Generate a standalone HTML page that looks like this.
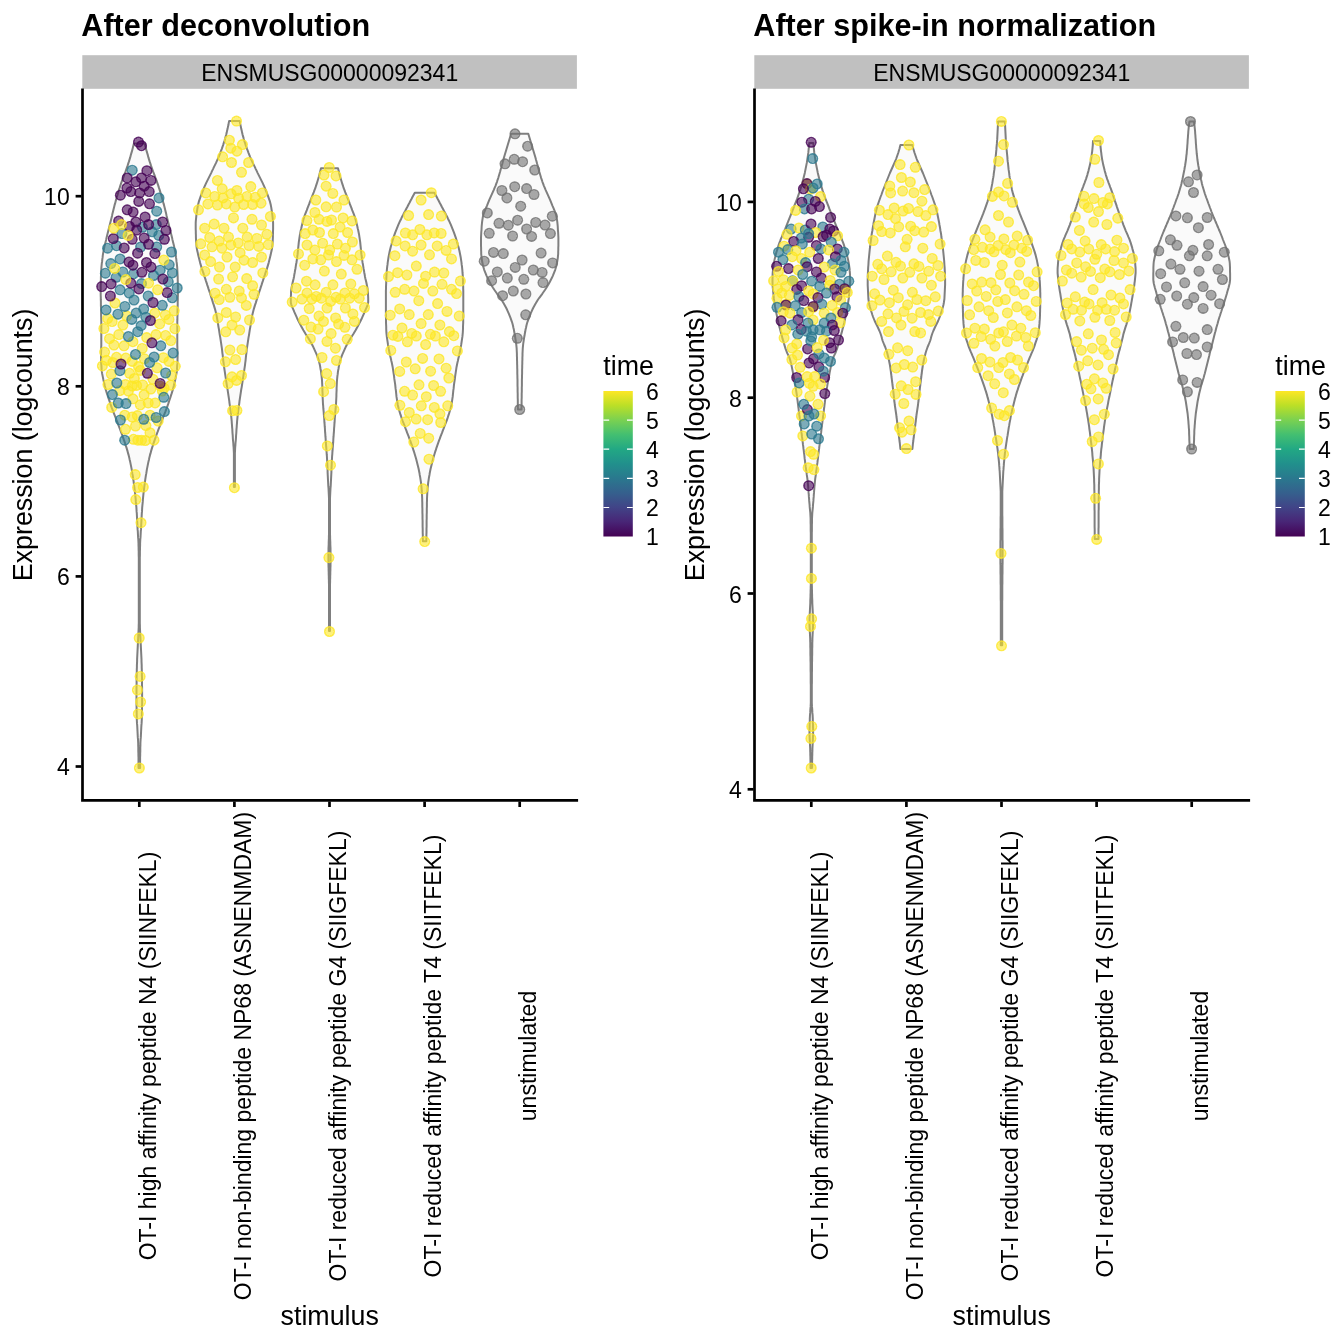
<!DOCTYPE html>
<html><head><meta charset="utf-8"><title>Expression violin plots</title>
<style>
html,body{margin:0;padding:0;background:#fff;}
svg{display:block}
text{font-family:"Liberation Sans", sans-serif;fill:#000}
.ttl{font-size:30.6px;font-weight:bold}
.ax{font-size:23px}
.axt{font-size:26.8px}
.v{fill:#FAFAFA;stroke:#7F7F7F;stroke-width:2;stroke-linejoin:round}
.y circle{fill:url(#gy)}
.p circle{fill:url(#gp)}
.t circle{fill:url(#gt)}
.g circle{fill:url(#gg)}
.l{stroke:#000;stroke-width:2.7;fill:none}
</style></head><body>
<svg width="1344" height="1344" viewBox="0 0 1344 1344">
<defs><linearGradient id="vir" x1="0" y1="1" x2="0" y2="0">
<stop offset="0" stop-color="#440154"/><stop offset="0.1" stop-color="#482576"/><stop offset="0.2" stop-color="#414487"/><stop offset="0.3" stop-color="#35608D"/><stop offset="0.4" stop-color="#2A788E"/><stop offset="0.5" stop-color="#21908C"/><stop offset="0.6" stop-color="#22A884"/><stop offset="0.7" stop-color="#43BF71"/><stop offset="0.8" stop-color="#7AD151"/><stop offset="0.9" stop-color="#BBDF27"/><stop offset="1" stop-color="#FDE725"/>
</linearGradient>
<radialGradient id="gy"><stop offset="0" stop-color="#FDE725" stop-opacity=".6"/><stop offset=".72" stop-color="#FDE725" stop-opacity=".6"/><stop offset=".75" stop-color="#FDE725" stop-opacity=".84"/><stop offset="1" stop-color="#FDE725" stop-opacity=".84"/></radialGradient>
<radialGradient id="gp"><stop offset="0" stop-color="#440154" stop-opacity=".6"/><stop offset=".72" stop-color="#440154" stop-opacity=".6"/><stop offset=".75" stop-color="#440154" stop-opacity=".84"/><stop offset="1" stop-color="#440154" stop-opacity=".84"/></radialGradient>
<radialGradient id="gt"><stop offset="0" stop-color="#2A788E" stop-opacity=".6"/><stop offset=".72" stop-color="#2A788E" stop-opacity=".6"/><stop offset=".75" stop-color="#2A788E" stop-opacity=".84"/><stop offset="1" stop-color="#2A788E" stop-opacity=".84"/></radialGradient>
<radialGradient id="gg"><stop offset="0" stop-color="#707070" stop-opacity=".6"/><stop offset=".72" stop-color="#707070" stop-opacity=".6"/><stop offset=".75" stop-color="#707070" stop-opacity=".84"/><stop offset="1" stop-color="#707070" stop-opacity=".84"/></radialGradient>
</defs>
<rect width="1344" height="1344" fill="#fff"/>

<text class="ttl" x="81.3" y="35.7">After deconvolution</text>
<rect x="82.3" y="55.2" width="494.6" height="33.6" fill="#C0C0C0"/>
<text class="ax" x="329.7" y="80.6" text-anchor="middle">ENSMUSG00000092341</text>
<path class="v" d="M133.9,143.4 L133.4,145.4 L132.9,147.4 L132.4,149.4 L131.9,151.4 L131.3,153.4 L130.7,155.4 L130.2,157.4 L129.6,159.4 L129.0,161.4 L128.3,163.4 L127.7,165.4 L127.0,167.4 L126.3,169.4 L125.6,171.4 L124.8,173.4 L124.0,175.4 L123.3,177.4 L122.5,179.4 L121.8,181.4 L121.1,183.4 L120.4,185.4 L119.8,187.4 L119.1,189.4 L118.5,191.4 L117.9,193.4 L117.3,195.4 L116.7,197.4 L116.2,199.4 L115.6,201.4 L115.1,203.4 L114.5,205.4 L114.0,207.4 L113.5,209.4 L113.0,211.4 L112.5,213.4 L112.1,215.4 L111.6,217.4 L111.1,219.4 L110.6,221.4 L110.1,223.4 L109.6,225.4 L109.1,227.4 L108.6,229.4 L108.1,231.4 L107.6,233.4 L107.1,235.4 L106.6,237.4 L106.2,239.4 L105.7,241.4 L105.2,243.4 L104.7,245.4 L104.3,247.4 L103.9,249.4 L103.5,251.4 L103.1,253.4 L102.8,255.4 L102.6,257.4 L102.3,259.4 L102.1,261.4 L101.8,263.4 L101.6,265.4 L101.4,267.4 L101.3,269.4 L101.2,271.4 L101.1,273.4 L101.0,275.4 L100.9,277.4 L100.9,279.4 L100.8,281.4 L100.8,283.4 L100.7,285.4 L100.7,287.4 L100.7,289.4 L100.7,291.4 L100.7,293.4 L100.7,295.4 L100.8,297.4 L100.8,299.4 L100.9,301.4 L100.9,303.4 L100.9,305.4 L101.0,307.4 L101.0,309.4 L101.1,311.4 L101.1,313.4 L101.1,315.4 L101.2,317.4 L101.2,319.4 L101.3,321.4 L101.3,323.4 L101.3,325.4 L101.3,327.4 L101.3,329.4 L101.3,331.4 L101.3,333.4 L101.3,335.4 L101.3,337.4 L101.3,339.4 L101.3,341.4 L101.3,343.4 L101.3,345.4 L101.2,347.4 L101.2,349.4 L101.1,351.4 L101.0,353.4 L101.0,355.4 L101.0,357.4 L101.1,359.4 L101.1,361.4 L101.2,363.4 L101.4,365.4 L101.5,367.4 L101.6,369.4 L101.8,371.4 L102.1,373.4 L102.5,375.4 L102.9,377.4 L103.3,379.4 L103.8,381.4 L104.3,383.4 L104.7,385.4 L105.2,387.4 L105.7,389.4 L106.3,391.4 L106.9,393.4 L107.6,395.4 L108.2,397.4 L108.9,399.4 L109.6,401.4 L110.2,403.4 L110.9,405.4 L111.6,407.4 L112.4,409.4 L113.1,411.4 L113.9,413.4 L114.7,415.4 L115.5,417.4 L116.2,419.4 L117.0,421.4 L117.8,423.4 L118.5,425.4 L119.3,427.4 L120.1,429.4 L120.8,431.4 L121.6,433.4 L122.3,435.4 L123.0,437.4 L123.7,439.4 L124.4,441.4 L125.1,443.4 L125.7,445.4 L126.4,447.4 L127.0,449.4 L127.6,451.4 L128.1,453.4 L128.7,455.4 L129.2,457.4 L129.6,459.4 L130.1,461.4 L130.5,463.4 L130.9,465.4 L131.3,467.4 L131.7,469.4 L132.0,471.4 L132.3,473.4 L132.7,475.4 L133.0,477.4 L133.3,479.4 L133.6,481.4 L133.8,483.4 L134.1,485.4 L134.4,487.4 L134.6,489.4 L134.8,491.4 L135.1,493.4 L135.3,495.4 L135.5,497.4 L135.7,499.4 L135.8,501.4 L136.0,503.4 L136.2,505.4 L136.4,507.4 L136.5,509.4 L136.6,511.4 L136.8,513.4 L136.9,515.4 L137.0,517.4 L137.1,519.4 L137.2,521.4 L137.3,523.4 L137.4,525.4 L137.5,527.4 L137.6,529.4 L137.8,531.4 L137.9,533.4 L138.0,535.4 L138.1,537.4 L138.3,539.4 L138.4,541.4 L138.5,543.4 L138.5,545.4 L138.6,547.4 L138.6,549.4 L138.7,551.4 L138.7,553.4 L138.7,555.4 L138.8,557.4 L138.8,559.4 L138.8,561.4 L138.8,563.4 L138.8,565.4 L138.8,567.4 L138.8,569.4 L138.8,571.4 L138.8,573.4 L138.8,575.4 L138.8,577.4 L138.8,579.4 L138.8,581.4 L138.8,583.4 L138.8,585.4 L138.8,587.4 L138.8,589.4 L138.8,591.4 L138.8,593.4 L138.8,595.4 L138.8,597.4 L138.8,599.4 L138.8,601.4 L138.8,603.4 L138.8,605.4 L138.8,607.4 L138.8,609.4 L138.8,611.4 L138.8,613.4 L138.8,615.4 L138.8,617.4 L138.8,619.4 L138.8,621.4 L138.8,623.4 L138.7,625.4 L138.7,627.4 L138.6,629.4 L138.5,631.4 L138.4,633.4 L138.3,635.4 L138.2,637.4 L138.1,639.4 L138.0,641.4 L137.9,643.4 L137.8,645.4 L137.7,647.4 L137.6,649.4 L137.5,651.4 L137.4,653.4 L137.3,655.4 L137.2,657.4 L137.1,659.4 L137.1,661.4 L137.0,663.4 L136.9,665.4 L136.9,667.4 L136.8,669.4 L136.8,671.4 L136.7,673.4 L136.7,675.4 L136.6,677.4 L136.6,679.4 L136.6,681.4 L136.6,683.4 L136.6,685.4 L136.5,687.4 L136.5,689.4 L136.5,691.4 L136.5,693.4 L136.5,695.4 L136.5,697.4 L136.5,699.4 L136.5,701.4 L136.5,703.4 L136.5,705.4 L136.6,707.4 L136.6,709.4 L136.6,711.4 L136.7,713.4 L136.7,715.4 L136.8,717.4 L136.8,719.4 L136.9,721.4 L137.0,723.4 L137.2,725.4 L137.3,727.4 L137.4,729.4 L137.5,731.4 L137.6,733.4 L137.7,735.4 L137.8,737.4 L138.0,739.4 L138.1,741.4 L138.2,743.4 L138.2,745.4 L138.3,747.4 L138.3,749.4 L138.3,751.4 L138.4,753.4 L138.4,755.4 L138.5,757.4 L138.5,759.4 L138.5,761.4 L138.5,763.4 L138.5,765.4 L138.5,767.4 L138.6,768.0 L140.1,768.0 L140.1,767.4 L140.1,765.4 L140.1,763.4 L140.1,761.4 L140.1,759.4 L140.1,757.4 L140.2,755.4 L140.2,753.4 L140.3,751.4 L140.3,749.4 L140.3,747.4 L140.4,745.4 L140.4,743.4 L140.5,741.4 L140.6,739.4 L140.8,737.4 L140.9,735.4 L141.0,733.4 L141.1,731.4 L141.2,729.4 L141.3,727.4 L141.4,725.4 L141.6,723.4 L141.7,721.4 L141.8,719.4 L141.8,717.4 L141.9,715.4 L141.9,713.4 L142.0,711.4 L142.0,709.4 L142.0,707.4 L142.1,705.4 L142.1,703.4 L142.1,701.4 L142.1,699.4 L142.1,697.4 L142.1,695.4 L142.1,693.4 L142.1,691.4 L142.1,689.4 L142.1,687.4 L142.0,685.4 L142.0,683.4 L142.0,681.4 L142.0,679.4 L142.0,677.4 L141.9,675.4 L141.9,673.4 L141.8,671.4 L141.8,669.4 L141.7,667.4 L141.7,665.4 L141.6,663.4 L141.5,661.4 L141.5,659.4 L141.4,657.4 L141.3,655.4 L141.2,653.4 L141.1,651.4 L141.0,649.4 L140.9,647.4 L140.8,645.4 L140.7,643.4 L140.6,641.4 L140.5,639.4 L140.4,637.4 L140.3,635.4 L140.2,633.4 L140.1,631.4 L140.0,629.4 L139.9,627.4 L139.9,625.4 L139.8,623.4 L139.8,621.4 L139.8,619.4 L139.8,617.4 L139.8,615.4 L139.8,613.4 L139.8,611.4 L139.8,609.4 L139.8,607.4 L139.8,605.4 L139.8,603.4 L139.8,601.4 L139.8,599.4 L139.8,597.4 L139.8,595.4 L139.8,593.4 L139.8,591.4 L139.8,589.4 L139.8,587.4 L139.8,585.4 L139.8,583.4 L139.8,581.4 L139.8,579.4 L139.8,577.4 L139.8,575.4 L139.8,573.4 L139.8,571.4 L139.8,569.4 L139.8,567.4 L139.8,565.4 L139.8,563.4 L139.8,561.4 L139.8,559.4 L139.8,557.4 L139.9,555.4 L139.9,553.4 L139.9,551.4 L140.0,549.4 L140.0,547.4 L140.1,545.4 L140.1,543.4 L140.2,541.4 L140.3,539.4 L140.5,537.4 L140.6,535.4 L140.7,533.4 L140.8,531.4 L141.0,529.4 L141.1,527.4 L141.2,525.4 L141.3,523.4 L141.4,521.4 L141.5,519.4 L141.6,517.4 L141.7,515.4 L141.8,513.4 L142.0,511.4 L142.1,509.4 L142.2,507.4 L142.4,505.4 L142.6,503.4 L142.8,501.4 L142.9,499.4 L143.1,497.4 L143.3,495.4 L143.5,493.4 L143.8,491.4 L144.0,489.4 L144.2,487.4 L144.5,485.4 L144.8,483.4 L145.0,481.4 L145.3,479.4 L145.6,477.4 L145.9,475.4 L146.3,473.4 L146.6,471.4 L146.9,469.4 L147.3,467.4 L147.7,465.4 L148.1,463.4 L148.5,461.4 L149.0,459.4 L149.4,457.4 L149.9,455.4 L150.5,453.4 L151.0,451.4 L151.6,449.4 L152.2,447.4 L152.9,445.4 L153.5,443.4 L154.2,441.4 L154.9,439.4 L155.6,437.4 L156.3,435.4 L157.0,433.4 L157.8,431.4 L158.5,429.4 L159.3,427.4 L160.1,425.4 L160.8,423.4 L161.6,421.4 L162.4,419.4 L163.1,417.4 L163.9,415.4 L164.7,413.4 L165.5,411.4 L166.2,409.4 L167.0,407.4 L167.7,405.4 L168.4,403.4 L169.0,401.4 L169.7,399.4 L170.4,397.4 L171.0,395.4 L171.7,393.4 L172.3,391.4 L172.9,389.4 L173.4,387.4 L173.9,385.4 L174.3,383.4 L174.8,381.4 L175.3,379.4 L175.7,377.4 L176.1,375.4 L176.5,373.4 L176.8,371.4 L177.0,369.4 L177.1,367.4 L177.2,365.4 L177.4,363.4 L177.5,361.4 L177.5,359.4 L177.6,357.4 L177.6,355.4 L177.6,353.4 L177.5,351.4 L177.4,349.4 L177.4,347.4 L177.3,345.4 L177.3,343.4 L177.3,341.4 L177.3,339.4 L177.3,337.4 L177.3,335.4 L177.3,333.4 L177.3,331.4 L177.3,329.4 L177.3,327.4 L177.3,325.4 L177.3,323.4 L177.3,321.4 L177.4,319.4 L177.4,317.4 L177.5,315.4 L177.5,313.4 L177.5,311.4 L177.6,309.4 L177.6,307.4 L177.7,305.4 L177.7,303.4 L177.7,301.4 L177.8,299.4 L177.8,297.4 L177.9,295.4 L177.9,293.4 L177.9,291.4 L177.9,289.4 L177.9,287.4 L177.9,285.4 L177.8,283.4 L177.8,281.4 L177.7,279.4 L177.7,277.4 L177.6,275.4 L177.5,273.4 L177.4,271.4 L177.3,269.4 L177.2,267.4 L177.0,265.4 L176.8,263.4 L176.5,261.4 L176.3,259.4 L176.0,257.4 L175.8,255.4 L175.5,253.4 L175.1,251.4 L174.7,249.4 L174.3,247.4 L173.9,245.4 L173.4,243.4 L172.9,241.4 L172.4,239.4 L172.0,237.4 L171.5,235.4 L171.0,233.4 L170.5,231.4 L170.0,229.4 L169.5,227.4 L169.0,225.4 L168.5,223.4 L168.0,221.4 L167.5,219.4 L167.0,217.4 L166.5,215.4 L166.1,213.4 L165.6,211.4 L165.1,209.4 L164.6,207.4 L164.1,205.4 L163.5,203.4 L163.0,201.4 L162.4,199.4 L161.9,197.4 L161.3,195.4 L160.7,193.4 L160.1,191.4 L159.5,189.4 L158.8,187.4 L158.2,185.4 L157.5,183.4 L156.8,181.4 L156.1,179.4 L155.3,177.4 L154.6,175.4 L153.8,173.4 L153.0,171.4 L152.3,169.4 L151.6,167.4 L150.9,165.4 L150.3,163.4 L149.6,161.4 L149.0,159.4 L148.4,157.4 L147.9,155.4 L147.3,153.4 L146.7,151.4 L146.2,149.4 L145.7,147.4 L145.2,145.4 L144.7,143.4Z"/>
<path class="v" d="M229.1,121.1 L228.7,123.1 L228.4,125.1 L227.9,127.1 L227.5,129.1 L227.0,131.1 L226.6,133.1 L226.1,135.1 L225.5,137.1 L225.0,139.1 L224.4,141.1 L223.7,143.1 L223.1,145.1 L222.4,147.1 L221.7,149.1 L220.9,151.1 L220.2,153.1 L219.4,155.1 L218.6,157.1 L217.7,159.1 L216.8,161.1 L215.9,163.1 L214.9,165.1 L213.9,167.1 L213.0,169.1 L212.0,171.1 L211.1,173.1 L210.1,175.1 L209.1,177.1 L208.1,179.1 L207.1,181.1 L206.1,183.1 L205.2,185.1 L204.3,187.1 L203.5,189.1 L202.7,191.1 L201.9,193.1 L201.1,195.1 L200.4,197.1 L199.7,199.1 L199.0,201.1 L198.5,203.1 L198.0,205.1 L197.6,207.1 L197.3,209.1 L197.0,211.1 L196.7,213.1 L196.4,215.1 L196.2,217.1 L196.0,219.1 L195.8,221.1 L195.7,223.1 L195.7,225.1 L195.7,227.1 L195.7,229.1 L195.8,231.1 L195.8,233.1 L195.9,235.1 L195.9,237.1 L196.0,239.1 L196.1,241.1 L196.2,243.1 L196.4,245.1 L196.6,247.1 L196.9,249.1 L197.3,251.1 L197.8,253.1 L198.2,255.1 L198.7,257.1 L199.2,259.1 L199.7,261.1 L200.2,263.1 L200.8,265.1 L201.4,267.1 L202.0,269.1 L202.7,271.1 L203.4,273.1 L204.0,275.1 L204.7,277.1 L205.4,279.1 L206.0,281.1 L206.7,283.1 L207.3,285.1 L208.0,287.1 L208.6,289.1 L209.3,291.1 L210.0,293.1 L210.6,295.1 L211.2,297.1 L211.9,299.1 L212.5,301.1 L213.1,303.1 L213.8,305.1 L214.4,307.1 L215.0,309.1 L215.5,311.1 L216.0,313.1 L216.5,315.1 L216.9,317.1 L217.2,319.1 L217.6,321.1 L217.9,323.1 L218.2,325.1 L218.5,327.1 L218.9,329.1 L219.2,331.1 L219.5,333.1 L219.8,335.1 L220.2,337.1 L220.5,339.1 L220.8,341.1 L221.1,343.1 L221.4,345.1 L221.7,347.1 L222.0,349.1 L222.2,351.1 L222.4,353.1 L222.7,355.1 L222.9,357.1 L223.1,359.1 L223.3,361.1 L223.6,363.1 L223.8,365.1 L224.1,367.1 L224.4,369.1 L224.7,371.1 L225.0,373.1 L225.3,375.1 L225.6,377.1 L225.9,379.1 L226.2,381.1 L226.5,383.1 L226.8,385.1 L227.1,387.1 L227.5,389.1 L227.8,391.1 L228.1,393.1 L228.4,395.1 L228.7,397.1 L229.0,399.1 L229.3,401.1 L229.5,403.1 L229.8,405.1 L230.1,407.1 L230.3,409.1 L230.6,411.1 L230.8,413.1 L231.1,415.1 L231.3,417.1 L231.5,419.1 L231.7,421.1 L231.8,423.1 L232.0,425.1 L232.1,427.1 L232.3,429.1 L232.4,431.1 L232.5,433.1 L232.7,435.1 L232.8,437.1 L232.9,439.1 L233.1,441.1 L233.3,443.1 L233.4,445.1 L233.6,447.1 L233.7,449.1 L233.8,451.1 L233.9,453.1 L233.9,455.1 L233.9,457.1 L233.9,459.1 L233.9,461.1 L233.9,463.1 L233.9,465.1 L233.9,467.1 L233.9,469.1 L233.9,471.1 L233.9,473.1 L233.9,475.1 L233.9,477.1 L233.9,479.1 L233.9,481.1 L233.9,483.1 L233.9,485.1 L233.9,487.0 L234.9,487.0 L234.9,485.1 L234.9,483.1 L234.9,481.1 L234.9,479.1 L234.9,477.1 L234.9,475.1 L234.9,473.1 L234.9,471.1 L234.9,469.1 L234.9,467.1 L234.9,465.1 L234.9,463.1 L234.9,461.1 L234.9,459.1 L234.9,457.1 L234.9,455.1 L234.9,453.1 L235.0,451.1 L235.1,449.1 L235.2,447.1 L235.4,445.1 L235.5,443.1 L235.7,441.1 L235.9,439.1 L236.0,437.1 L236.1,435.1 L236.3,433.1 L236.4,431.1 L236.5,429.1 L236.7,427.1 L236.8,425.1 L237.0,423.1 L237.1,421.1 L237.3,419.1 L237.5,417.1 L237.7,415.1 L238.0,413.1 L238.2,411.1 L238.5,409.1 L238.7,407.1 L239.0,405.1 L239.3,403.1 L239.5,401.1 L239.8,399.1 L240.1,397.1 L240.4,395.1 L240.7,393.1 L241.0,391.1 L241.3,389.1 L241.7,387.1 L242.0,385.1 L242.3,383.1 L242.6,381.1 L242.9,379.1 L243.2,377.1 L243.5,375.1 L243.8,373.1 L244.1,371.1 L244.4,369.1 L244.7,367.1 L245.0,365.1 L245.2,363.1 L245.5,361.1 L245.7,359.1 L245.9,357.1 L246.1,355.1 L246.4,353.1 L246.6,351.1 L246.8,349.1 L247.1,347.1 L247.4,345.1 L247.7,343.1 L248.0,341.1 L248.3,339.1 L248.6,337.1 L249.0,335.1 L249.3,333.1 L249.6,331.1 L249.9,329.1 L250.3,327.1 L250.6,325.1 L250.9,323.1 L251.2,321.1 L251.6,319.1 L251.9,317.1 L252.3,315.1 L252.8,313.1 L253.3,311.1 L253.8,309.1 L254.4,307.1 L255.0,305.1 L255.7,303.1 L256.3,301.1 L256.9,299.1 L257.6,297.1 L258.2,295.1 L258.8,293.1 L259.5,291.1 L260.2,289.1 L260.8,287.1 L261.5,285.1 L262.1,283.1 L262.8,281.1 L263.4,279.1 L264.1,277.1 L264.8,275.1 L265.4,273.1 L266.1,271.1 L266.8,269.1 L267.4,267.1 L268.0,265.1 L268.6,263.1 L269.1,261.1 L269.6,259.1 L270.1,257.1 L270.6,255.1 L271.0,253.1 L271.5,251.1 L271.9,249.1 L272.2,247.1 L272.4,245.1 L272.6,243.1 L272.7,241.1 L272.8,239.1 L272.9,237.1 L272.9,235.1 L273.0,233.1 L273.0,231.1 L273.1,229.1 L273.1,227.1 L273.1,225.1 L273.1,223.1 L273.0,221.1 L272.8,219.1 L272.6,217.1 L272.4,215.1 L272.1,213.1 L271.8,211.1 L271.5,209.1 L271.2,207.1 L270.8,205.1 L270.3,203.1 L269.8,201.1 L269.1,199.1 L268.4,197.1 L267.7,195.1 L266.9,193.1 L266.1,191.1 L265.3,189.1 L264.5,187.1 L263.6,185.1 L262.7,183.1 L261.7,181.1 L260.7,179.1 L259.7,177.1 L258.7,175.1 L257.7,173.1 L256.8,171.1 L255.8,169.1 L254.9,167.1 L253.9,165.1 L252.9,163.1 L252.0,161.1 L251.1,159.1 L250.2,157.1 L249.4,155.1 L248.6,153.1 L247.9,151.1 L247.1,149.1 L246.4,147.1 L245.7,145.1 L245.1,143.1 L244.4,141.1 L243.8,139.1 L243.3,137.1 L242.7,135.1 L242.2,133.1 L241.8,131.1 L241.3,129.1 L240.9,127.1 L240.4,125.1 L240.1,123.1 L239.7,121.1Z"/>
<path class="v" d="M321.0,168.2 L320.5,170.2 L320.0,172.2 L319.5,174.2 L319.0,176.2 L318.4,178.2 L317.8,180.2 L317.2,182.2 L316.6,184.2 L315.9,186.2 L315.3,188.2 L314.5,190.2 L313.8,192.2 L313.0,194.2 L312.2,196.2 L311.4,198.2 L310.6,200.2 L309.8,202.2 L309.1,204.2 L308.3,206.2 L307.5,208.2 L306.8,210.2 L306.0,212.2 L305.2,214.2 L304.5,216.2 L303.8,218.2 L303.2,220.2 L302.7,222.2 L302.2,224.2 L301.7,226.2 L301.3,228.2 L300.8,230.2 L300.4,232.2 L300.0,234.2 L299.7,236.2 L299.4,238.2 L299.1,240.2 L298.8,242.2 L298.6,244.2 L298.4,246.2 L298.2,248.2 L298.0,250.2 L297.8,252.2 L297.6,254.2 L297.3,256.2 L297.1,258.2 L296.8,260.2 L296.5,262.2 L296.1,264.2 L295.8,266.2 L295.5,268.2 L295.1,270.2 L294.8,272.2 L294.4,274.2 L294.1,276.2 L293.7,278.2 L293.2,280.2 L292.7,282.2 L292.3,284.2 L291.9,286.2 L291.5,288.2 L291.2,290.2 L291.0,292.2 L291.0,294.2 L290.9,296.2 L290.8,298.2 L290.8,300.2 L290.8,302.2 L291.2,304.2 L291.8,306.2 L292.7,308.2 L293.6,310.2 L294.4,312.2 L295.3,314.2 L296.2,316.2 L297.1,318.2 L298.1,320.2 L299.1,322.2 L300.2,324.2 L301.2,326.2 L302.3,328.2 L303.4,330.2 L304.6,332.2 L305.8,334.2 L307.1,336.2 L308.4,338.2 L309.6,340.2 L310.8,342.2 L311.9,344.2 L312.9,346.2 L313.8,348.2 L314.7,350.2 L315.6,352.2 L316.5,354.2 L317.3,356.2 L318.0,358.2 L318.7,360.2 L319.2,362.2 L319.7,364.2 L320.1,366.2 L320.4,368.2 L320.8,370.2 L321.1,372.2 L321.3,374.2 L321.6,376.2 L321.8,378.2 L322.0,380.2 L322.1,382.2 L322.2,384.2 L322.3,386.2 L322.4,388.2 L322.4,390.2 L322.5,392.2 L322.6,394.2 L322.6,396.2 L322.7,398.2 L322.8,400.2 L322.9,402.2 L323.0,404.2 L323.2,406.2 L323.3,408.2 L323.5,410.2 L323.7,412.2 L323.8,414.2 L324.0,416.2 L324.2,418.2 L324.3,420.2 L324.4,422.2 L324.6,424.2 L324.7,426.2 L324.9,428.2 L325.0,430.2 L325.1,432.2 L325.3,434.2 L325.4,436.2 L325.6,438.2 L325.7,440.2 L325.8,442.2 L326.0,444.2 L326.1,446.2 L326.3,448.2 L326.4,450.2 L326.6,452.2 L326.7,454.2 L326.9,456.2 L327.0,458.2 L327.1,460.2 L327.2,462.2 L327.3,464.2 L327.4,466.2 L327.5,468.2 L327.6,470.2 L327.6,472.2 L327.7,474.2 L327.8,476.2 L327.9,478.2 L328.0,480.2 L328.1,482.2 L328.2,484.2 L328.3,486.2 L328.5,488.2 L328.6,490.2 L328.7,492.2 L328.8,494.2 L328.9,496.2 L329.0,498.2 L329.0,500.2 L329.0,502.2 L329.0,504.2 L329.0,506.2 L329.0,508.2 L329.0,510.2 L329.0,512.2 L329.0,514.2 L329.0,516.2 L329.0,518.2 L329.0,520.2 L329.0,522.2 L329.0,524.2 L329.0,526.2 L329.0,528.2 L329.0,530.2 L329.0,532.2 L329.0,534.2 L328.9,536.2 L328.9,538.2 L328.8,540.2 L328.7,542.2 L328.7,544.2 L328.6,546.2 L328.5,548.2 L328.5,550.2 L328.5,552.2 L328.4,554.2 L328.4,556.2 L328.4,558.2 L328.4,560.2 L328.4,562.2 L328.5,564.2 L328.5,566.2 L328.6,568.2 L328.6,570.2 L328.7,572.2 L328.7,574.2 L328.8,576.2 L328.8,578.2 L328.9,580.2 L328.9,582.2 L329.0,584.2 L329.0,586.2 L329.0,588.2 L329.0,590.2 L329.0,592.2 L329.0,594.2 L329.0,596.2 L329.0,598.2 L329.0,600.2 L329.0,602.2 L329.0,604.2 L329.0,606.2 L329.0,608.2 L329.0,610.2 L329.0,612.2 L329.0,614.2 L329.0,616.2 L329.0,618.2 L329.0,620.2 L329.0,622.2 L329.0,624.2 L329.0,626.2 L329.0,628.2 L329.0,630.2 L329.0,631.1 L330.0,631.1 L330.0,630.2 L330.0,628.2 L330.0,626.2 L330.0,624.2 L330.0,622.2 L330.0,620.2 L330.0,618.2 L330.0,616.2 L330.0,614.2 L330.0,612.2 L330.0,610.2 L330.0,608.2 L330.0,606.2 L330.0,604.2 L330.0,602.2 L330.0,600.2 L330.0,598.2 L330.0,596.2 L330.0,594.2 L330.0,592.2 L330.0,590.2 L330.0,588.2 L330.0,586.2 L330.0,584.2 L330.1,582.2 L330.1,580.2 L330.2,578.2 L330.2,576.2 L330.3,574.2 L330.3,572.2 L330.4,570.2 L330.4,568.2 L330.5,566.2 L330.5,564.2 L330.6,562.2 L330.6,560.2 L330.6,558.2 L330.6,556.2 L330.6,554.2 L330.5,552.2 L330.5,550.2 L330.5,548.2 L330.4,546.2 L330.3,544.2 L330.3,542.2 L330.2,540.2 L330.1,538.2 L330.1,536.2 L330.0,534.2 L330.0,532.2 L330.0,530.2 L330.0,528.2 L330.0,526.2 L330.0,524.2 L330.0,522.2 L330.0,520.2 L330.0,518.2 L330.0,516.2 L330.0,514.2 L330.0,512.2 L330.0,510.2 L330.0,508.2 L330.0,506.2 L330.0,504.2 L330.0,502.2 L330.0,500.2 L330.0,498.2 L330.1,496.2 L330.2,494.2 L330.3,492.2 L330.4,490.2 L330.5,488.2 L330.7,486.2 L330.8,484.2 L330.9,482.2 L331.0,480.2 L331.1,478.2 L331.2,476.2 L331.3,474.2 L331.4,472.2 L331.4,470.2 L331.5,468.2 L331.6,466.2 L331.7,464.2 L331.8,462.2 L331.9,460.2 L332.0,458.2 L332.1,456.2 L332.3,454.2 L332.4,452.2 L332.6,450.2 L332.7,448.2 L332.9,446.2 L333.0,444.2 L333.2,442.2 L333.3,440.2 L333.4,438.2 L333.6,436.2 L333.7,434.2 L333.9,432.2 L334.0,430.2 L334.1,428.2 L334.3,426.2 L334.4,424.2 L334.6,422.2 L334.7,420.2 L334.8,418.2 L335.0,416.2 L335.2,414.2 L335.3,412.2 L335.5,410.2 L335.7,408.2 L335.8,406.2 L336.0,404.2 L336.1,402.2 L336.2,400.2 L336.3,398.2 L336.4,396.2 L336.4,394.2 L336.5,392.2 L336.6,390.2 L336.6,388.2 L336.7,386.2 L336.8,384.2 L336.9,382.2 L337.0,380.2 L337.2,378.2 L337.4,376.2 L337.7,374.2 L337.9,372.2 L338.2,370.2 L338.6,368.2 L338.9,366.2 L339.3,364.2 L339.8,362.2 L340.3,360.2 L341.0,358.2 L341.7,356.2 L342.5,354.2 L343.4,352.2 L344.3,350.2 L345.2,348.2 L346.1,346.2 L347.1,344.2 L348.2,342.2 L349.4,340.2 L350.6,338.2 L351.9,336.2 L353.2,334.2 L354.4,332.2 L355.6,330.2 L356.7,328.2 L357.8,326.2 L358.8,324.2 L359.9,322.2 L360.9,320.2 L361.9,318.2 L362.8,316.2 L363.7,314.2 L364.6,312.2 L365.4,310.2 L366.3,308.2 L367.2,306.2 L367.8,304.2 L368.2,302.2 L368.2,300.2 L368.2,298.2 L368.1,296.2 L368.0,294.2 L368.0,292.2 L367.8,290.2 L367.5,288.2 L367.1,286.2 L366.7,284.2 L366.3,282.2 L365.8,280.2 L365.3,278.2 L364.9,276.2 L364.6,274.2 L364.2,272.2 L363.9,270.2 L363.5,268.2 L363.2,266.2 L362.9,264.2 L362.5,262.2 L362.2,260.2 L361.9,258.2 L361.7,256.2 L361.4,254.2 L361.2,252.2 L361.0,250.2 L360.8,248.2 L360.6,246.2 L360.4,244.2 L360.2,242.2 L359.9,240.2 L359.6,238.2 L359.3,236.2 L359.0,234.2 L358.6,232.2 L358.2,230.2 L357.7,228.2 L357.3,226.2 L356.8,224.2 L356.3,222.2 L355.8,220.2 L355.2,218.2 L354.5,216.2 L353.8,214.2 L353.0,212.2 L352.2,210.2 L351.5,208.2 L350.7,206.2 L349.9,204.2 L349.2,202.2 L348.4,200.2 L347.6,198.2 L346.8,196.2 L346.0,194.2 L345.2,192.2 L344.5,190.2 L343.7,188.2 L343.1,186.2 L342.4,184.2 L341.8,182.2 L341.2,180.2 L340.6,178.2 L340.0,176.2 L339.5,174.2 L339.0,172.2 L338.5,170.2 L338.0,168.2Z"/>
<path class="v" d="M414.8,192.7 L413.7,194.7 L412.6,196.7 L411.6,198.7 L410.5,200.7 L409.5,202.7 L408.4,204.7 L407.4,206.7 L406.3,208.7 L405.3,210.7 L404.2,212.7 L403.2,214.7 L402.1,216.7 L401.2,218.7 L400.2,220.7 L399.3,222.7 L398.4,224.7 L397.6,226.7 L396.8,228.7 L396.0,230.7 L395.2,232.7 L394.5,234.7 L393.8,236.7 L393.1,238.7 L392.5,240.7 L391.9,242.7 L391.4,244.7 L390.8,246.7 L390.3,248.7 L389.8,250.7 L389.4,252.7 L389.0,254.7 L388.6,256.7 L388.3,258.7 L388.0,260.7 L387.7,262.7 L387.5,264.7 L387.2,266.7 L387.0,268.7 L386.8,270.7 L386.7,272.7 L386.5,274.7 L386.4,276.7 L386.3,278.7 L386.2,280.7 L386.2,282.7 L386.1,284.7 L386.0,286.7 L386.0,288.7 L385.9,290.7 L385.9,292.7 L385.9,294.7 L385.9,296.7 L385.9,298.7 L385.9,300.7 L385.9,302.7 L385.9,304.7 L385.9,306.7 L385.9,308.7 L385.9,310.7 L385.9,312.7 L385.9,314.7 L385.9,316.7 L386.0,318.7 L386.0,320.7 L386.0,322.7 L386.1,324.7 L386.2,326.7 L386.2,328.7 L386.3,330.7 L386.4,332.7 L386.6,334.7 L386.8,336.7 L387.1,338.7 L387.4,340.7 L387.7,342.7 L388.0,344.7 L388.4,346.7 L388.7,348.7 L389.1,350.7 L389.5,352.7 L389.9,354.7 L390.4,356.7 L390.9,358.7 L391.3,360.7 L391.8,362.7 L392.2,364.7 L392.6,366.7 L392.9,368.7 L393.2,370.7 L393.5,372.7 L393.8,374.7 L394.1,376.7 L394.3,378.7 L394.6,380.7 L394.9,382.7 L395.2,384.7 L395.4,386.7 L395.6,388.7 L395.9,390.7 L396.1,392.7 L396.3,394.7 L396.5,396.7 L396.8,398.7 L397.1,400.7 L397.4,402.7 L397.7,404.7 L398.2,406.7 L398.7,408.7 L399.3,410.7 L399.9,412.7 L400.5,414.7 L401.2,416.7 L401.8,418.7 L402.5,420.7 L403.3,422.7 L404.1,424.7 L404.9,426.7 L405.6,428.7 L406.4,430.7 L407.1,432.7 L407.9,434.7 L408.7,436.7 L409.4,438.7 L410.2,440.7 L410.9,442.7 L411.6,444.7 L412.3,446.7 L413.0,448.7 L413.6,450.7 L414.3,452.7 L414.9,454.7 L415.5,456.7 L416.1,458.7 L416.6,460.7 L417.1,462.7 L417.6,464.7 L418.1,466.7 L418.6,468.7 L419.0,470.7 L419.4,472.7 L419.7,474.7 L420.1,476.7 L420.4,478.7 L420.7,480.7 L421.0,482.7 L421.2,484.7 L421.4,486.7 L421.6,488.7 L421.7,490.7 L421.9,492.7 L422.0,494.7 L422.1,496.7 L422.2,498.7 L422.2,500.7 L422.3,502.7 L422.3,504.7 L422.3,506.7 L422.4,508.7 L422.4,510.7 L422.4,512.7 L422.5,514.7 L422.5,516.7 L422.5,518.7 L422.6,520.7 L422.6,522.7 L422.6,524.7 L422.6,526.7 L422.7,528.7 L422.7,530.7 L422.7,532.7 L422.8,534.7 L422.8,536.7 L422.8,538.7 L422.9,540.7 L422.9,541.3 L426.3,541.3 L426.3,540.7 L426.4,538.7 L426.4,536.7 L426.4,534.7 L426.5,532.7 L426.5,530.7 L426.5,528.7 L426.6,526.7 L426.6,524.7 L426.6,522.7 L426.6,520.7 L426.7,518.7 L426.7,516.7 L426.7,514.7 L426.8,512.7 L426.8,510.7 L426.8,508.7 L426.9,506.7 L426.9,504.7 L426.9,502.7 L427.0,500.7 L427.0,498.7 L427.1,496.7 L427.2,494.7 L427.3,492.7 L427.5,490.7 L427.6,488.7 L427.8,486.7 L428.0,484.7 L428.2,482.7 L428.5,480.7 L428.8,478.7 L429.1,476.7 L429.5,474.7 L429.8,472.7 L430.2,470.7 L430.6,468.7 L431.1,466.7 L431.6,464.7 L432.1,462.7 L432.6,460.7 L433.1,458.7 L433.7,456.7 L434.3,454.7 L434.9,452.7 L435.6,450.7 L436.2,448.7 L436.9,446.7 L437.6,444.7 L438.3,442.7 L439.0,440.7 L439.8,438.7 L440.5,436.7 L441.3,434.7 L442.1,432.7 L442.8,430.7 L443.6,428.7 L444.3,426.7 L445.1,424.7 L445.9,422.7 L446.7,420.7 L447.4,418.7 L448.0,416.7 L448.7,414.7 L449.3,412.7 L449.9,410.7 L450.5,408.7 L451.0,406.7 L451.5,404.7 L451.8,402.7 L452.1,400.7 L452.4,398.7 L452.7,396.7 L452.9,394.7 L453.1,392.7 L453.3,390.7 L453.6,388.7 L453.8,386.7 L454.0,384.7 L454.3,382.7 L454.6,380.7 L454.9,378.7 L455.1,376.7 L455.4,374.7 L455.7,372.7 L456.0,370.7 L456.3,368.7 L456.6,366.7 L457.0,364.7 L457.4,362.7 L457.9,360.7 L458.3,358.7 L458.8,356.7 L459.3,354.7 L459.7,352.7 L460.1,350.7 L460.5,348.7 L460.8,346.7 L461.2,344.7 L461.5,342.7 L461.8,340.7 L462.1,338.7 L462.4,336.7 L462.6,334.7 L462.8,332.7 L462.9,330.7 L463.0,328.7 L463.0,326.7 L463.1,324.7 L463.2,322.7 L463.2,320.7 L463.2,318.7 L463.3,316.7 L463.3,314.7 L463.3,312.7 L463.3,310.7 L463.3,308.7 L463.3,306.7 L463.3,304.7 L463.3,302.7 L463.3,300.7 L463.3,298.7 L463.3,296.7 L463.3,294.7 L463.3,292.7 L463.3,290.7 L463.2,288.7 L463.2,286.7 L463.1,284.7 L463.0,282.7 L463.0,280.7 L462.9,278.7 L462.8,276.7 L462.7,274.7 L462.5,272.7 L462.4,270.7 L462.2,268.7 L462.0,266.7 L461.7,264.7 L461.5,262.7 L461.2,260.7 L460.9,258.7 L460.6,256.7 L460.2,254.7 L459.8,252.7 L459.4,250.7 L458.9,248.7 L458.4,246.7 L457.8,244.7 L457.3,242.7 L456.7,240.7 L456.1,238.7 L455.4,236.7 L454.7,234.7 L454.0,232.7 L453.2,230.7 L452.4,228.7 L451.6,226.7 L450.8,224.7 L449.9,222.7 L449.0,220.7 L448.0,218.7 L447.1,216.7 L446.0,214.7 L445.0,212.7 L443.9,210.7 L442.9,208.7 L441.8,206.7 L440.8,204.7 L439.7,202.7 L438.7,200.7 L437.6,198.7 L436.6,196.7 L435.5,194.7 L434.4,192.7Z"/>
<path class="v" d="M511.1,133.8 L510.5,135.8 L509.9,137.8 L509.3,139.8 L508.7,141.8 L508.1,143.8 L507.5,145.8 L506.9,147.8 L506.3,149.8 L505.7,151.8 L505.1,153.8 L504.5,155.8 L503.9,157.8 L503.4,159.8 L502.8,161.8 L502.3,163.8 L501.7,165.8 L501.2,167.8 L500.6,169.8 L500.1,171.8 L499.5,173.8 L498.9,175.8 L498.3,177.8 L497.6,179.8 L497.0,181.8 L496.2,183.8 L495.5,185.8 L494.6,187.8 L493.8,189.8 L492.9,191.8 L492.0,193.8 L491.1,195.8 L490.2,197.8 L489.3,199.8 L488.5,201.8 L487.7,203.8 L486.9,205.8 L486.0,207.8 L485.2,209.8 L484.4,211.8 L483.6,213.8 L483.1,215.8 L482.7,217.8 L482.4,219.8 L482.1,221.8 L481.9,223.8 L481.7,225.8 L481.6,227.8 L481.5,229.8 L481.3,231.8 L481.2,233.8 L481.1,235.8 L481.0,237.8 L481.0,239.8 L481.0,241.8 L481.0,243.8 L481.0,245.8 L481.1,247.8 L481.1,249.8 L481.2,251.8 L481.2,253.8 L481.4,255.8 L481.6,257.8 L481.9,259.8 L482.2,261.8 L482.6,263.8 L483.0,265.8 L483.6,267.8 L484.2,269.8 L485.0,271.8 L485.8,273.8 L486.6,275.8 L487.5,277.8 L488.5,279.8 L489.5,281.8 L490.6,283.8 L491.8,285.8 L493.0,287.8 L494.3,289.8 L495.7,291.8 L497.1,293.8 L498.6,295.8 L500.1,297.8 L501.5,299.8 L502.7,301.8 L503.9,303.8 L505.0,305.8 L506.1,307.8 L507.1,309.8 L508.0,311.8 L508.9,313.8 L509.7,315.8 L510.5,317.8 L511.2,319.8 L511.9,321.8 L512.5,323.8 L513.0,325.8 L513.4,327.8 L513.9,329.8 L514.2,331.8 L514.6,333.8 L514.9,335.8 L515.3,337.8 L515.6,339.8 L515.9,341.8 L516.2,343.8 L516.4,345.8 L516.6,347.8 L516.7,349.8 L516.8,351.8 L516.9,353.8 L516.9,355.8 L517.0,357.8 L517.0,359.8 L517.1,361.8 L517.1,363.8 L517.2,365.8 L517.2,367.8 L517.3,369.8 L517.3,371.8 L517.3,373.8 L517.4,375.8 L517.4,377.8 L517.5,379.8 L517.5,381.8 L517.5,383.8 L517.5,385.8 L517.6,387.8 L517.6,389.8 L517.6,391.8 L517.7,393.8 L517.7,395.8 L517.7,397.8 L517.8,399.8 L517.8,401.8 L517.8,403.8 L517.8,405.8 L517.9,407.8 L517.9,409.5 L521.5,409.5 L521.5,407.8 L521.6,405.8 L521.6,403.8 L521.6,401.8 L521.6,399.8 L521.7,397.8 L521.7,395.8 L521.7,393.8 L521.8,391.8 L521.8,389.8 L521.8,387.8 L521.9,385.8 L521.9,383.8 L521.9,381.8 L521.9,379.8 L522.0,377.8 L522.0,375.8 L522.1,373.8 L522.1,371.8 L522.1,369.8 L522.2,367.8 L522.2,365.8 L522.3,363.8 L522.3,361.8 L522.4,359.8 L522.4,357.8 L522.5,355.8 L522.5,353.8 L522.6,351.8 L522.7,349.8 L522.8,347.8 L523.0,345.8 L523.2,343.8 L523.5,341.8 L523.8,339.8 L524.1,337.8 L524.5,335.8 L524.8,333.8 L525.2,331.8 L525.5,329.8 L526.0,327.8 L526.4,325.8 L526.9,323.8 L527.5,321.8 L528.2,319.8 L528.9,317.8 L529.7,315.8 L530.5,313.8 L531.4,311.8 L532.3,309.8 L533.3,307.8 L534.4,305.8 L535.5,303.8 L536.7,301.8 L537.9,299.8 L539.3,297.8 L540.8,295.8 L542.3,293.8 L543.7,291.8 L545.1,289.8 L546.4,287.8 L547.6,285.8 L548.8,283.8 L549.9,281.8 L550.9,279.8 L551.9,277.8 L552.8,275.8 L553.6,273.8 L554.4,271.8 L555.2,269.8 L555.8,267.8 L556.4,265.8 L556.8,263.8 L557.2,261.8 L557.5,259.8 L557.8,257.8 L558.0,255.8 L558.2,253.8 L558.2,251.8 L558.3,249.8 L558.3,247.8 L558.4,245.8 L558.4,243.8 L558.4,241.8 L558.4,239.8 L558.4,237.8 L558.3,235.8 L558.2,233.8 L558.1,231.8 L557.9,229.8 L557.8,227.8 L557.7,225.8 L557.5,223.8 L557.3,221.8 L557.0,219.8 L556.7,217.8 L556.3,215.8 L555.8,213.8 L555.0,211.8 L554.2,209.8 L553.4,207.8 L552.5,205.8 L551.7,203.8 L550.9,201.8 L550.1,199.8 L549.2,197.8 L548.3,195.8 L547.4,193.8 L546.5,191.8 L545.6,189.8 L544.8,187.8 L543.9,185.8 L543.2,183.8 L542.4,181.8 L541.8,179.8 L541.1,177.8 L540.5,175.8 L539.9,173.8 L539.3,171.8 L538.8,169.8 L538.2,167.8 L537.7,165.8 L537.1,163.8 L536.6,161.8 L536.0,159.8 L535.5,157.8 L534.9,155.8 L534.3,153.8 L533.7,151.8 L533.1,149.8 L532.5,147.8 L531.9,145.8 L531.3,143.8 L530.7,141.8 L530.1,139.8 L529.5,137.8 L528.9,135.8 L528.3,133.8Z"/>
<g class="d">
<g class="y"><circle cx="115.0" cy="303.0" r="5.5"/><circle cx="174.2" cy="310.8" r="5.5"/><circle cx="154.8" cy="313.1" r="5.5"/><circle cx="165.3" cy="314.9" r="5.5"/><circle cx="126.6" cy="316.0" r="5.5"/><circle cx="107.6" cy="318.6" r="5.5"/><circle cx="112.1" cy="321.6" r="5.5"/><circle cx="169.0" cy="319.4" r="5.5"/><circle cx="122.9" cy="325.0" r="5.5"/><circle cx="159.7" cy="323.9" r="5.5"/><circle cx="103.9" cy="328.5" r="5.5"/><circle cx="174.9" cy="328.7" r="5.5"/><circle cx="118.8" cy="334.6" r="5.5"/><circle cx="156.0" cy="334.6" r="5.5"/><circle cx="165.6" cy="335.4" r="5.5"/><circle cx="146.7" cy="337.6" r="5.5"/><circle cx="109.5" cy="338.7" r="5.5"/><circle cx="132.9" cy="341.7" r="5.5"/><circle cx="170.8" cy="340.6" r="5.5"/><circle cx="113.9" cy="345.1" r="5.5"/><circle cx="124.0" cy="345.8" r="5.5"/><circle cx="142.2" cy="348.4" r="5.5"/><circle cx="104.6" cy="352.1" r="5.5"/><circle cx="163.4" cy="357.7" r="5.5"/><circle cx="116.5" cy="357.3" r="5.5"/><circle cx="125.8" cy="358.1" r="5.5"/><circle cx="144.4" cy="358.8" r="5.5"/><circle cx="106.5" cy="360.3" r="5.5"/><circle cx="132.2" cy="361.4" r="5.5"/><circle cx="169.0" cy="361.4" r="5.5"/><circle cx="112.8" cy="362.5" r="5.5"/><circle cx="102.4" cy="365.9" r="5.5"/><circle cx="138.5" cy="366.6" r="5.5"/><circle cx="175.3" cy="366.3" r="5.5"/><circle cx="157.1" cy="367.8" r="5.5"/><circle cx="140.3" cy="370.4" r="5.5"/><circle cx="129.6" cy="373.3" r="5.5"/><circle cx="111.3" cy="374.1" r="5.5"/><circle cx="171.6" cy="375.6" r="5.5"/><circle cx="134.4" cy="378.5" r="5.5"/><circle cx="153.0" cy="379.3" r="5.5"/><circle cx="108.0" cy="384.5" r="5.5"/><circle cx="125.5" cy="384.5" r="5.5"/><circle cx="142.6" cy="384.9" r="5.5"/><circle cx="132.2" cy="386.0" r="5.5"/><circle cx="170.8" cy="385.2" r="5.5"/><circle cx="150.8" cy="389.0" r="5.5"/><circle cx="164.1" cy="388.2" r="5.5"/><circle cx="135.2" cy="474.6" r="5.5"/><circle cx="137.6" cy="487.5" r="5.5"/><circle cx="143.3" cy="487.1" r="5.5"/><circle cx="135.8" cy="499.6" r="5.5"/><circle cx="141.0" cy="522.7" r="5.5"/><circle cx="133.5" cy="439.3" r="5.5"/><circle cx="137.9" cy="440.2" r="5.5"/><circle cx="141.5" cy="440.2" r="5.5"/><circle cx="145.4" cy="440.5" r="5.5"/><circle cx="154.0" cy="440.2" r="5.5"/><circle cx="139.2" cy="638.0" r="5.5"/><circle cx="140.1" cy="676.4" r="5.5"/><circle cx="137.4" cy="690.0" r="5.5"/><circle cx="140.6" cy="702.0" r="5.5"/><circle cx="138.3" cy="713.9" r="5.5"/><circle cx="139.4" cy="768.0" r="5.5"/><circle cx="236.5" cy="121.1" r="5.5"/><circle cx="229.4" cy="140.2" r="5.5"/><circle cx="242.4" cy="144.6" r="5.5"/><circle cx="230.8" cy="148.2" r="5.5"/><circle cx="236.9" cy="151.2" r="5.5"/><circle cx="222.6" cy="156.8" r="5.5"/><circle cx="231.5" cy="162.5" r="5.5"/><circle cx="248.6" cy="162.5" r="5.5"/><circle cx="241.5" cy="172.3" r="5.5"/><circle cx="217.4" cy="180.4" r="5.5"/><circle cx="250.8" cy="186.6" r="5.5"/><circle cx="222.2" cy="188.8" r="5.5"/><circle cx="236.9" cy="190.5" r="5.5"/><circle cx="205.8" cy="192.9" r="5.5"/><circle cx="262.4" cy="192.9" r="5.5"/><circle cx="231.1" cy="193.8" r="5.5"/><circle cx="214.7" cy="196.4" r="5.5"/><circle cx="223.1" cy="197.9" r="5.5"/><circle cx="246.9" cy="196.4" r="5.5"/><circle cx="255.2" cy="197.3" r="5.5"/><circle cx="238.6" cy="198.2" r="5.5"/><circle cx="207.9" cy="203.9" r="5.5"/><circle cx="217.4" cy="205.0" r="5.5"/><circle cx="226.3" cy="203.9" r="5.5"/><circle cx="234.7" cy="207.1" r="5.5"/><circle cx="243.6" cy="204.5" r="5.5"/><circle cx="252.6" cy="204.5" r="5.5"/><circle cx="261.0" cy="203.2" r="5.5"/><circle cx="198.5" cy="209.8" r="5.5"/><circle cx="233.5" cy="217.9" r="5.5"/><circle cx="270.4" cy="216.4" r="5.5"/><circle cx="252.0" cy="219.3" r="5.5"/><circle cx="214.2" cy="224.1" r="5.5"/><circle cx="261.5" cy="225.0" r="5.5"/><circle cx="204.7" cy="228.2" r="5.5"/><circle cx="224.0" cy="228.2" r="5.5"/><circle cx="242.8" cy="228.2" r="5.5"/><circle cx="266.9" cy="234.3" r="5.5"/><circle cx="209.7" cy="237.5" r="5.5"/><circle cx="228.5" cy="237.1" r="5.5"/><circle cx="247.2" cy="237.1" r="5.5"/><circle cx="257.0" cy="238.4" r="5.5"/><circle cx="200.8" cy="243.8" r="5.5"/><circle cx="219.2" cy="241.1" r="5.5"/><circle cx="238.3" cy="242.9" r="5.5"/><circle cx="212.0" cy="246.8" r="5.5"/><circle cx="221.9" cy="248.2" r="5.5"/><circle cx="230.8" cy="245.0" r="5.5"/><circle cx="249.0" cy="245.5" r="5.5"/><circle cx="258.8" cy="246.4" r="5.5"/><circle cx="268.3" cy="244.6" r="5.5"/><circle cx="240.1" cy="252.7" r="5.5"/><circle cx="204.7" cy="255.0" r="5.5"/><circle cx="227.0" cy="257.1" r="5.5"/><circle cx="261.5" cy="257.1" r="5.5"/><circle cx="210.6" cy="261.6" r="5.5"/><circle cx="244.0" cy="260.2" r="5.5"/><circle cx="252.6" cy="262.5" r="5.5"/><circle cx="219.5" cy="267.0" r="5.5"/><circle cx="235.2" cy="267.0" r="5.5"/><circle cx="204.9" cy="271.4" r="5.5"/><circle cx="262.8" cy="272.9" r="5.5"/><circle cx="232.6" cy="276.8" r="5.5"/><circle cx="218.6" cy="279.1" r="5.5"/><circle cx="246.7" cy="278.6" r="5.5"/><circle cx="252.6" cy="285.7" r="5.5"/><circle cx="226.3" cy="289.3" r="5.5"/><circle cx="239.2" cy="291.1" r="5.5"/><circle cx="215.1" cy="293.2" r="5.5"/><circle cx="254.0" cy="294.3" r="5.5"/><circle cx="219.2" cy="299.6" r="5.5"/><circle cx="229.9" cy="297.3" r="5.5"/><circle cx="241.5" cy="297.9" r="5.5"/><circle cx="246.3" cy="305.4" r="5.5"/><circle cx="226.3" cy="312.5" r="5.5"/><circle cx="217.8" cy="317.9" r="5.5"/><circle cx="235.6" cy="317.0" r="5.5"/><circle cx="249.5" cy="320.0" r="5.5"/><circle cx="232.0" cy="325.0" r="5.5"/><circle cx="234.4" cy="487.7" r="5.5"/><circle cx="232.6" cy="410.7" r="5.5"/><circle cx="236.9" cy="410.4" r="5.5"/><circle cx="228.1" cy="383.6" r="5.5"/><circle cx="232.0" cy="376.8" r="5.5"/><circle cx="236.5" cy="380.4" r="5.5"/><circle cx="241.5" cy="375.5" r="5.5"/><circle cx="225.4" cy="361.8" r="5.5"/><circle cx="235.6" cy="359.5" r="5.5"/><circle cx="229.9" cy="350.0" r="5.5"/><circle cx="241.9" cy="349.6" r="5.5"/><circle cx="225.8" cy="331.8" r="5.5"/><circle cx="239.7" cy="330.0" r="5.5"/><circle cx="329.2" cy="167.5" r="5.5"/><circle cx="324.0" cy="175.0" r="5.5"/><circle cx="336.0" cy="175.9" r="5.5"/><circle cx="326.1" cy="186.2" r="5.5"/><circle cx="332.8" cy="193.4" r="5.5"/><circle cx="315.8" cy="200.0" r="5.5"/><circle cx="344.0" cy="200.0" r="5.5"/><circle cx="326.1" cy="206.8" r="5.5"/><circle cx="336.5" cy="207.1" r="5.5"/><circle cx="314.9" cy="212.5" r="5.5"/><circle cx="319.0" cy="219.3" r="5.5"/><circle cx="306.9" cy="220.5" r="5.5"/><circle cx="327.0" cy="221.4" r="5.5"/><circle cx="331.5" cy="220.0" r="5.5"/><circle cx="343.1" cy="217.9" r="5.5"/><circle cx="352.0" cy="220.9" r="5.5"/><circle cx="340.1" cy="227.1" r="5.5"/><circle cx="312.8" cy="230.0" r="5.5"/><circle cx="305.2" cy="233.6" r="5.5"/><circle cx="319.5" cy="232.5" r="5.5"/><circle cx="333.3" cy="233.6" r="5.5"/><circle cx="347.6" cy="232.5" r="5.5"/><circle cx="322.6" cy="243.2" r="5.5"/><circle cx="307.0" cy="245.0" r="5.5"/><circle cx="337.4" cy="244.1" r="5.5"/><circle cx="352.4" cy="242.0" r="5.5"/><circle cx="314.9" cy="250.0" r="5.5"/><circle cx="329.7" cy="250.0" r="5.5"/><circle cx="345.4" cy="248.2" r="5.5"/><circle cx="298.5" cy="253.9" r="5.5"/><circle cx="328.5" cy="255.0" r="5.5"/><circle cx="344.0" cy="255.4" r="5.5"/><circle cx="360.1" cy="255.0" r="5.5"/><circle cx="312.8" cy="258.9" r="5.5"/><circle cx="320.8" cy="259.8" r="5.5"/><circle cx="336.5" cy="261.6" r="5.5"/><circle cx="352.0" cy="259.8" r="5.5"/><circle cx="304.7" cy="265.2" r="5.5"/><circle cx="357.0" cy="269.3" r="5.5"/><circle cx="324.4" cy="271.1" r="5.5"/><circle cx="341.3" cy="274.1" r="5.5"/><circle cx="306.5" cy="281.2" r="5.5"/><circle cx="315.1" cy="284.8" r="5.5"/><circle cx="332.9" cy="284.8" r="5.5"/><circle cx="350.8" cy="283.9" r="5.5"/><circle cx="296.1" cy="288.0" r="5.5"/><circle cx="363.3" cy="290.5" r="5.5"/><circle cx="307.0" cy="292.9" r="5.5"/><circle cx="326.1" cy="292.3" r="5.5"/><circle cx="344.9" cy="292.9" r="5.5"/><circle cx="354.4" cy="293.8" r="5.5"/><circle cx="302.0" cy="299.1" r="5.5"/><circle cx="316.3" cy="296.4" r="5.5"/><circle cx="311.9" cy="299.1" r="5.5"/><circle cx="321.3" cy="298.2" r="5.5"/><circle cx="336.0" cy="297.3" r="5.5"/><circle cx="340.4" cy="299.1" r="5.5"/><circle cx="349.7" cy="298.2" r="5.5"/><circle cx="359.2" cy="298.2" r="5.5"/><circle cx="292.2" cy="302.1" r="5.5"/><circle cx="330.6" cy="301.4" r="5.5"/><circle cx="364.5" cy="307.5" r="5.5"/><circle cx="309.2" cy="308.6" r="5.5"/><circle cx="327.0" cy="308.0" r="5.5"/><circle cx="345.4" cy="308.0" r="5.5"/><circle cx="319.0" cy="316.1" r="5.5"/><circle cx="352.9" cy="313.9" r="5.5"/><circle cx="303.8" cy="320.2" r="5.5"/><circle cx="323.5" cy="321.4" r="5.5"/><circle cx="335.6" cy="317.9" r="5.5"/><circle cx="354.4" cy="321.4" r="5.5"/><circle cx="338.6" cy="324.1" r="5.5"/><circle cx="311.0" cy="327.1" r="5.5"/><circle cx="318.1" cy="329.1" r="5.5"/><circle cx="344.9" cy="327.3" r="5.5"/><circle cx="331.1" cy="333.6" r="5.5"/><circle cx="310.4" cy="338.9" r="5.5"/><circle cx="327.0" cy="341.4" r="5.5"/><circle cx="347.2" cy="339.3" r="5.5"/><circle cx="335.4" cy="348.2" r="5.5"/><circle cx="322.0" cy="357.5" r="5.5"/><circle cx="336.5" cy="360.4" r="5.5"/><circle cx="326.7" cy="373.6" r="5.5"/><circle cx="330.3" cy="383.6" r="5.5"/><circle cx="323.6" cy="391.7" r="5.5"/><circle cx="333.9" cy="409.5" r="5.5"/><circle cx="329.3" cy="415.6" r="5.5"/><circle cx="327.3" cy="445.9" r="5.5"/><circle cx="330.5" cy="465.2" r="5.5"/><circle cx="328.9" cy="557.6" r="5.5"/><circle cx="329.5" cy="631.5" r="5.5"/><circle cx="431.3" cy="192.7" r="5.5"/><circle cx="421.1" cy="200.0" r="5.5"/><circle cx="408.6" cy="215.5" r="5.5"/><circle cx="428.6" cy="214.6" r="5.5"/><circle cx="441.3" cy="216.1" r="5.5"/><circle cx="419.9" cy="229.5" r="5.5"/><circle cx="405.4" cy="233.0" r="5.5"/><circle cx="412.6" cy="234.8" r="5.5"/><circle cx="426.9" cy="234.8" r="5.5"/><circle cx="434.2" cy="232.9" r="5.5"/><circle cx="441.1" cy="233.4" r="5.5"/><circle cx="396.1" cy="240.9" r="5.5"/><circle cx="453.3" cy="244.1" r="5.5"/><circle cx="405.1" cy="245.9" r="5.5"/><circle cx="421.1" cy="245.0" r="5.5"/><circle cx="437.2" cy="245.9" r="5.5"/><circle cx="412.6" cy="251.2" r="5.5"/><circle cx="446.1" cy="250.4" r="5.5"/><circle cx="394.9" cy="255.7" r="5.5"/><circle cx="429.5" cy="254.8" r="5.5"/><circle cx="451.5" cy="258.9" r="5.5"/><circle cx="416.3" cy="266.1" r="5.5"/><circle cx="397.6" cy="272.7" r="5.5"/><circle cx="388.5" cy="276.6" r="5.5"/><circle cx="406.9" cy="275.0" r="5.5"/><circle cx="425.6" cy="276.2" r="5.5"/><circle cx="434.5" cy="272.1" r="5.5"/><circle cx="443.8" cy="273.0" r="5.5"/><circle cx="460.4" cy="281.1" r="5.5"/><circle cx="423.5" cy="283.4" r="5.5"/><circle cx="442.0" cy="284.3" r="5.5"/><circle cx="395.2" cy="292.3" r="5.5"/><circle cx="404.7" cy="289.3" r="5.5"/><circle cx="414.0" cy="291.1" r="5.5"/><circle cx="432.8" cy="291.1" r="5.5"/><circle cx="451.5" cy="289.3" r="5.5"/><circle cx="456.5" cy="293.6" r="5.5"/><circle cx="418.8" cy="300.7" r="5.5"/><circle cx="437.6" cy="303.6" r="5.5"/><circle cx="399.7" cy="308.9" r="5.5"/><circle cx="447.0" cy="311.4" r="5.5"/><circle cx="390.2" cy="315.2" r="5.5"/><circle cx="409.2" cy="314.6" r="5.5"/><circle cx="428.3" cy="314.6" r="5.5"/><circle cx="459.2" cy="316.1" r="5.5"/><circle cx="421.1" cy="323.6" r="5.5"/><circle cx="439.9" cy="325.0" r="5.5"/><circle cx="402.0" cy="328.0" r="5.5"/><circle cx="449.4" cy="331.6" r="5.5"/><circle cx="392.9" cy="335.2" r="5.5"/><circle cx="397.9" cy="336.4" r="5.5"/><circle cx="411.7" cy="333.4" r="5.5"/><circle cx="416.3" cy="336.1" r="5.5"/><circle cx="430.4" cy="334.3" r="5.5"/><circle cx="435.4" cy="336.1" r="5.5"/><circle cx="443.8" cy="341.8" r="5.5"/><circle cx="453.8" cy="335.7" r="5.5"/><circle cx="407.4" cy="341.8" r="5.5"/><circle cx="425.6" cy="344.6" r="5.5"/><circle cx="390.8" cy="350.4" r="5.5"/><circle cx="457.4" cy="350.9" r="5.5"/><circle cx="422.6" cy="358.4" r="5.5"/><circle cx="439.0" cy="358.9" r="5.5"/><circle cx="406.3" cy="362.0" r="5.5"/><circle cx="415.2" cy="368.8" r="5.5"/><circle cx="430.6" cy="371.2" r="5.5"/><circle cx="446.1" cy="368.2" r="5.5"/><circle cx="399.7" cy="371.4" r="5.5"/><circle cx="448.8" cy="378.0" r="5.5"/><circle cx="419.0" cy="384.8" r="5.5"/><circle cx="433.6" cy="385.5" r="5.5"/><circle cx="424.7" cy="541.6" r="5.5"/><circle cx="423.1" cy="488.8" r="5.5"/><circle cx="429.0" cy="459.2" r="5.5"/><circle cx="413.8" cy="442.0" r="5.5"/><circle cx="420.2" cy="433.4" r="5.5"/><circle cx="428.7" cy="438.2" r="5.5"/><circle cx="405.5" cy="421.7" r="5.5"/><circle cx="416.2" cy="419.1" r="5.5"/><circle cx="427.6" cy="419.7" r="5.5"/><circle cx="440.7" cy="422.5" r="5.5"/><circle cx="409.3" cy="412.5" r="5.5"/><circle cx="439.9" cy="413.8" r="5.5"/><circle cx="399.9" cy="405.3" r="5.5"/><circle cx="421.3" cy="405.8" r="5.5"/><circle cx="434.3" cy="407.4" r="5.5"/><circle cx="447.7" cy="405.8" r="5.5"/><circle cx="412.6" cy="395.1" r="5.5"/><circle cx="426.3" cy="396.7" r="5.5"/><circle cx="404.6" cy="391.3" r="5.5"/><circle cx="440.6" cy="391.3" r="5.5"/></g>
<g class="g"><circle cx="515.0" cy="133.8" r="5.5"/><circle cx="527.6" cy="146.2" r="5.5"/><circle cx="505.0" cy="163.8" r="5.5"/><circle cx="514.2" cy="159.3" r="5.5"/><circle cx="522.6" cy="161.7" r="5.5"/><circle cx="534.7" cy="170.0" r="5.5"/><circle cx="501.9" cy="190.5" r="5.5"/><circle cx="514.7" cy="186.7" r="5.5"/><circle cx="526.6" cy="188.6" r="5.5"/><circle cx="534.0" cy="194.5" r="5.5"/><circle cx="506.9" cy="197.9" r="5.5"/><circle cx="520.7" cy="206.2" r="5.5"/><circle cx="487.3" cy="212.9" r="5.5"/><circle cx="552.3" cy="216.2" r="5.5"/><circle cx="499.0" cy="223.3" r="5.5"/><circle cx="508.3" cy="225.2" r="5.5"/><circle cx="517.6" cy="220.2" r="5.5"/><circle cx="535.7" cy="222.4" r="5.5"/><circle cx="545.0" cy="225.0" r="5.5"/><circle cx="526.6" cy="229.0" r="5.5"/><circle cx="489.2" cy="233.3" r="5.5"/><circle cx="512.6" cy="236.0" r="5.5"/><circle cx="531.6" cy="236.4" r="5.5"/><circle cx="550.4" cy="233.6" r="5.5"/><circle cx="493.5" cy="252.4" r="5.5"/><circle cx="503.3" cy="253.6" r="5.5"/><circle cx="541.1" cy="253.1" r="5.5"/><circle cx="484.2" cy="261.2" r="5.5"/><circle cx="522.1" cy="260.0" r="5.5"/><circle cx="552.6" cy="262.9" r="5.5"/><circle cx="515.2" cy="267.4" r="5.5"/><circle cx="497.3" cy="271.9" r="5.5"/><circle cx="533.3" cy="270.0" r="5.5"/><circle cx="542.1" cy="272.4" r="5.5"/><circle cx="491.6" cy="280.7" r="5.5"/><circle cx="507.3" cy="278.1" r="5.5"/><circle cx="523.8" cy="279.3" r="5.5"/><circle cx="543.0" cy="282.6" r="5.5"/><circle cx="513.3" cy="291.0" r="5.5"/><circle cx="502.6" cy="295.7" r="5.5"/><circle cx="525.9" cy="294.0" r="5.5"/><circle cx="525.7" cy="314.8" r="5.5"/><circle cx="517.3" cy="338.3" r="5.5"/><circle cx="519.7" cy="409.5" r="5.5"/></g>
<g class="y"><circle cx="136.6" cy="385.4" r="5.5"/><circle cx="160.4" cy="386.2" r="5.5"/><circle cx="128.4" cy="391.0" r="5.5"/><circle cx="119.9" cy="390.6" r="5.5"/><circle cx="162.3" cy="391.0" r="5.5"/><circle cx="144.1" cy="394.7" r="5.5"/><circle cx="132.9" cy="398.8" r="5.5"/><circle cx="148.2" cy="402.9" r="5.5"/><circle cx="155.2" cy="402.9" r="5.5"/><circle cx="140.3" cy="404.8" r="5.5"/><circle cx="111.7" cy="407.4" r="5.5"/><circle cx="124.7" cy="415.2" r="5.5"/><circle cx="132.2" cy="417.0" r="5.5"/><circle cx="137.4" cy="415.6" r="5.5"/><circle cx="150.0" cy="415.2" r="5.5"/><circle cx="158.2" cy="421.1" r="5.5"/><circle cx="135.5" cy="426.0" r="5.5"/><circle cx="145.9" cy="425.6" r="5.5"/><circle cx="125.5" cy="429.3" r="5.5"/><circle cx="150.0" cy="432.7" r="5.5"/></g>
<g class="t"><circle cx="132.2" cy="170.2" r="5.5"/><circle cx="159.0" cy="197.9" r="5.5"/><circle cx="156.7" cy="211.2" r="5.5"/><circle cx="156.3" cy="224.6" r="5.5"/><circle cx="142.4" cy="227.3" r="5.5"/><circle cx="152.2" cy="231.8" r="5.5"/><circle cx="158.8" cy="235.4" r="5.5"/><circle cx="121.9" cy="233.6" r="5.5"/><circle cx="107.6" cy="248.2" r="5.5"/><circle cx="116.5" cy="245.7" r="5.5"/><circle cx="140.6" cy="247.0" r="5.5"/><circle cx="156.7" cy="247.0" r="5.5"/><circle cx="171.5" cy="252.0" r="5.5"/><circle cx="120.1" cy="258.9" r="5.5"/><circle cx="110.8" cy="263.6" r="5.5"/><circle cx="169.2" cy="264.8" r="5.5"/><circle cx="160.2" cy="270.2" r="5.5"/><circle cx="105.4" cy="273.2" r="5.5"/><circle cx="122.8" cy="272.0" r="5.5"/><circle cx="172.4" cy="272.9" r="5.5"/><circle cx="116.1" cy="277.3" r="5.5"/><circle cx="133.5" cy="273.8" r="5.5"/><circle cx="153.5" cy="275.5" r="5.5"/><circle cx="168.3" cy="281.8" r="5.5"/><circle cx="177.2" cy="288.0" r="5.5"/><circle cx="141.5" cy="283.6" r="5.5"/><circle cx="120.1" cy="289.8" r="5.5"/><circle cx="129.2" cy="293.0" r="5.5"/><circle cx="134.0" cy="300.0" r="5.5"/><circle cx="148.2" cy="296.0" r="5.5"/><circle cx="172.3" cy="297.8" r="5.5"/><circle cx="124.9" cy="306.4" r="5.5"/><circle cx="106.0" cy="309.9" r="5.5"/><circle cx="162.3" cy="305.3" r="5.5"/><circle cx="117.9" cy="314.2" r="5.5"/><circle cx="143.7" cy="309.0" r="5.5"/><circle cx="136.2" cy="313.1" r="5.5"/><circle cx="131.8" cy="319.4" r="5.5"/><circle cx="145.9" cy="317.2" r="5.5"/><circle cx="141.1" cy="325.7" r="5.5"/><circle cx="137.7" cy="331.7" r="5.5"/><circle cx="128.4" cy="336.5" r="5.5"/><circle cx="160.8" cy="345.8" r="5.5"/><circle cx="173.1" cy="353.1" r="5.5"/><circle cx="135.5" cy="354.4" r="5.5"/><circle cx="154.1" cy="357.0" r="5.5"/><circle cx="149.6" cy="362.5" r="5.5"/><circle cx="119.9" cy="370.7" r="5.5"/><circle cx="165.6" cy="373.0" r="5.5"/><circle cx="116.8" cy="383.0" r="5.5"/><circle cx="112.4" cy="394.6" r="5.5"/><circle cx="163.8" cy="397.3" r="5.5"/><circle cx="118.3" cy="403.0" r="5.5"/><circle cx="126.0" cy="403.6" r="5.5"/><circle cx="164.4" cy="411.6" r="5.5"/><circle cx="120.4" cy="420.0" r="5.5"/><circle cx="143.8" cy="419.3" r="5.5"/><circle cx="156.1" cy="417.5" r="5.5"/><circle cx="124.7" cy="440.2" r="5.5"/></g>
<g class="p"><circle cx="138.5" cy="142.1" r="5.5"/><circle cx="141.5" cy="145.7" r="5.5"/><circle cx="146.9" cy="170.7" r="5.5"/><circle cx="127.2" cy="177.9" r="5.5"/><circle cx="135.8" cy="181.8" r="5.5"/><circle cx="141.5" cy="177.9" r="5.5"/><circle cx="151.0" cy="180.4" r="5.5"/><circle cx="126.9" cy="188.0" r="5.5"/><circle cx="130.8" cy="191.6" r="5.5"/><circle cx="144.2" cy="186.2" r="5.5"/><circle cx="149.2" cy="191.6" r="5.5"/><circle cx="139.7" cy="192.9" r="5.5"/><circle cx="120.4" cy="195.2" r="5.5"/><circle cx="138.8" cy="201.4" r="5.5"/><circle cx="149.5" cy="203.8" r="5.5"/><circle cx="127.2" cy="209.8" r="5.5"/><circle cx="133.1" cy="212.1" r="5.5"/><circle cx="145.1" cy="217.0" r="5.5"/><circle cx="118.6" cy="221.1" r="5.5"/><circle cx="129.5" cy="226.4" r="5.5"/><circle cx="135.8" cy="222.0" r="5.5"/><circle cx="148.6" cy="224.6" r="5.5"/><circle cx="136.7" cy="230.0" r="5.5"/><circle cx="162.6" cy="222.0" r="5.5"/><circle cx="166.0" cy="230.4" r="5.5"/><circle cx="113.3" cy="238.6" r="5.5"/><circle cx="132.2" cy="239.3" r="5.5"/><circle cx="144.2" cy="238.0" r="5.5"/><circle cx="148.6" cy="244.3" r="5.5"/><circle cx="164.4" cy="239.3" r="5.5"/><circle cx="124.2" cy="247.9" r="5.5"/><circle cx="137.6" cy="253.2" r="5.5"/><circle cx="154.9" cy="253.6" r="5.5"/><circle cx="129.0" cy="262.1" r="5.5"/><circle cx="132.9" cy="265.2" r="5.5"/><circle cx="146.5" cy="262.5" r="5.5"/><circle cx="151.0" cy="267.1" r="5.5"/><circle cx="141.9" cy="272.3" r="5.5"/><circle cx="162.9" cy="279.1" r="5.5"/><circle cx="101.7" cy="286.6" r="5.5"/><circle cx="111.1" cy="283.9" r="5.5"/><circle cx="130.8" cy="283.2" r="5.5"/><circle cx="138.8" cy="288.9" r="5.5"/><circle cx="110.4" cy="296.0" r="5.5"/><circle cx="167.1" cy="292.6" r="5.5"/><circle cx="153.0" cy="302.5" r="5.5"/><circle cx="150.4" cy="320.5" r="5.5"/><circle cx="151.9" cy="342.8" r="5.5"/><circle cx="121.0" cy="364.0" r="5.5"/><circle cx="147.4" cy="373.3" r="5.5"/><circle cx="160.1" cy="383.4" r="5.5"/></g>
<g class="y"><circle cx="121.5" cy="224.6" r="5.5"/><circle cx="113.8" cy="228.2" r="5.5"/><circle cx="128.1" cy="235.4" r="5.5"/><circle cx="114.7" cy="268.4" r="5.5"/><circle cx="163.8" cy="260.0" r="5.5"/><circle cx="125.8" cy="279.6" r="5.5"/><circle cx="148.6" cy="283.2" r="5.5"/><circle cx="157.6" cy="289.8" r="5.5"/></g>
</g>
<path class="l" d="M82.5,88.4V801.7M81.1,800.4H578.1"/>
<path class="l" d="M75.6,196.2H81.5"/>
<text class="ax" x="69.7" y="204.8" text-anchor="end">10</text>
<path class="l" d="M75.6,386.3H81.5"/>
<text class="ax" x="69.7" y="394.9" text-anchor="end">8</text>
<path class="l" d="M75.6,576.4H81.5"/>
<text class="ax" x="69.7" y="585.0" text-anchor="end">6</text>
<path class="l" d="M75.6,766.5H81.5"/>
<text class="ax" x="69.7" y="775.1" text-anchor="end">4</text>
<path class="l" d="M139.3,801.5V807"/>
<text class="ax" transform="translate(155.6,1056) rotate(-90)" text-anchor="middle">OT-I high affinity peptide N4 (SIINFEKL)</text>
<path class="l" d="M234.4,801.5V807"/>
<text class="ax" transform="translate(250.7,1056) rotate(-90)" text-anchor="middle">OT-I non-binding peptide NP68 (ASNENMDAM)</text>
<path class="l" d="M329.5,801.5V807"/>
<text class="ax" transform="translate(345.8,1056) rotate(-90)" text-anchor="middle">OT-I reduced affinity peptide G4 (SIIGFEKL)</text>
<path class="l" d="M424.6,801.5V807"/>
<text class="ax" transform="translate(440.9,1056) rotate(-90)" text-anchor="middle">OT-I reduced affinity peptide T4 (SIITFEKL)</text>
<path class="l" d="M519.7,801.5V807"/>
<text class="ax" transform="translate(536.0,1056) rotate(-90)" text-anchor="middle">unstimulated</text>
<text class="axt" x="329.7" y="1325.3" text-anchor="middle">stimulus</text>
<text class="axt" transform="translate(32.0,444.9) rotate(-90)" text-anchor="middle">Expression (logcounts)</text>
<text class="axt" x="603.3" y="375">time</text>
<rect x="603.4" y="391" width="29.4" height="145.5" fill="url(#vir)"/>
<text class="ax" x="646.0" y="399.6">6</text>
<path d="M603.4,420.1h5.8M632.8,420.1h-5.8" stroke="#fff" stroke-width="1.2" fill="none"/>
<text class="ax" x="646.0" y="428.7">5</text>
<path d="M603.4,449.2h5.8M632.8,449.2h-5.8" stroke="#fff" stroke-width="1.2" fill="none"/>
<text class="ax" x="646.0" y="457.8">4</text>
<path d="M603.4,478.4h5.8M632.8,478.4h-5.8" stroke="#fff" stroke-width="1.2" fill="none"/>
<text class="ax" x="646.0" y="487.0">3</text>
<path d="M603.4,507.5h5.8M632.8,507.5h-5.8" stroke="#fff" stroke-width="1.2" fill="none"/>
<text class="ax" x="646.0" y="516.1">2</text>
<text class="ax" x="646.0" y="545.2">1</text>
<text class="ttl" x="753.3" y="35.7">After spike-in normalization</text>
<rect x="754.3" y="55.2" width="494.6" height="33.6" fill="#C0C0C0"/>
<text class="ax" x="1001.7" y="80.6" text-anchor="middle">ENSMUSG00000092341</text>
<path class="v" d="M809.3,142.9 L809.1,144.9 L808.9,146.9 L808.7,148.9 L808.5,150.9 L808.3,152.9 L808.0,154.9 L807.7,156.9 L807.4,158.9 L807.1,160.9 L806.8,162.9 L806.4,164.9 L806.0,166.9 L805.6,168.9 L805.2,170.9 L804.8,172.9 L804.3,174.9 L803.8,176.9 L803.3,178.9 L802.8,180.9 L802.3,182.9 L801.7,184.9 L801.1,186.9 L800.5,188.9 L799.9,190.9 L799.2,192.9 L798.5,194.9 L797.8,196.9 L797.1,198.9 L796.3,200.9 L795.5,202.9 L794.7,204.9 L793.9,206.9 L793.2,208.9 L792.4,210.9 L791.6,212.9 L790.8,214.9 L790.0,216.9 L789.2,218.9 L788.4,220.9 L787.6,222.9 L786.8,224.9 L786.0,226.9 L785.2,228.9 L784.3,230.9 L783.5,232.9 L782.6,234.9 L781.8,236.9 L780.9,238.9 L780.2,240.9 L779.4,242.9 L778.7,244.9 L778.1,246.9 L777.5,248.9 L776.8,250.9 L776.2,252.9 L775.7,254.9 L775.2,256.9 L774.7,258.9 L774.3,260.9 L773.9,262.9 L773.6,264.9 L773.3,266.9 L773.0,268.9 L772.9,270.9 L772.7,272.9 L772.6,274.9 L772.6,276.9 L772.5,278.9 L772.5,280.9 L772.5,282.9 L772.6,284.9 L772.7,286.9 L772.9,288.9 L773.1,290.9 L773.3,292.9 L773.5,294.9 L773.7,296.9 L773.9,298.9 L774.2,300.9 L774.5,302.9 L774.8,304.9 L775.1,306.9 L775.5,308.9 L775.9,310.9 L776.3,312.9 L776.7,314.9 L777.1,316.9 L777.5,318.9 L778.0,320.9 L778.4,322.9 L778.9,324.9 L779.4,326.9 L780.0,328.9 L780.5,330.9 L781.0,332.9 L781.6,334.9 L782.1,336.9 L782.6,338.9 L783.2,340.9 L783.8,342.9 L784.4,344.9 L785.0,346.9 L785.6,348.9 L786.4,350.9 L787.1,352.9 L788.1,354.9 L789.1,356.9 L789.8,358.9 L790.4,360.9 L790.9,362.9 L791.4,364.9 L791.8,366.9 L792.2,368.9 L792.6,370.9 L793.0,372.9 L793.3,374.9 L793.7,376.9 L794.1,378.9 L794.5,380.9 L794.8,382.9 L795.2,384.9 L795.5,386.9 L795.9,388.9 L796.2,390.9 L796.5,392.9 L796.8,394.9 L797.1,396.9 L797.3,398.9 L797.6,400.9 L797.8,402.9 L798.1,404.9 L798.3,406.9 L798.6,408.9 L798.8,410.9 L799.1,412.9 L799.3,414.9 L799.6,416.9 L799.8,418.9 L800.1,420.9 L800.3,422.9 L800.6,424.9 L800.8,426.9 L801.1,428.9 L801.3,430.9 L801.5,432.9 L801.8,434.9 L802.0,436.9 L802.3,438.9 L802.5,440.9 L802.8,442.9 L803.0,444.9 L803.3,446.9 L803.5,448.9 L803.8,450.9 L804.0,452.9 L804.3,454.9 L804.5,456.9 L804.7,458.9 L805.0,460.9 L805.2,462.9 L805.5,464.9 L805.7,466.9 L806.0,468.9 L806.3,470.9 L806.6,472.9 L806.8,474.9 L807.1,476.9 L807.4,478.9 L807.6,480.9 L807.8,482.9 L808.0,484.9 L808.2,486.9 L808.3,488.9 L808.5,490.9 L808.6,492.9 L808.8,494.9 L808.9,496.9 L809.1,498.9 L809.2,500.9 L809.4,502.9 L809.6,504.9 L809.7,506.9 L809.9,508.9 L810.1,510.9 L810.3,512.9 L810.4,514.9 L810.5,516.9 L810.6,518.9 L810.6,520.9 L810.6,522.9 L810.7,524.9 L810.7,526.9 L810.7,528.9 L810.7,530.9 L810.8,532.9 L810.8,534.9 L810.8,536.9 L810.8,538.9 L810.8,540.9 L810.8,542.9 L810.8,544.9 L810.8,546.9 L810.8,548.9 L810.8,550.9 L810.8,552.9 L810.8,554.9 L810.8,556.9 L810.8,558.9 L810.8,560.9 L810.8,562.9 L810.8,564.9 L810.8,566.9 L810.8,568.9 L810.8,570.9 L810.8,572.9 L810.8,574.9 L810.8,576.9 L810.8,578.9 L810.8,580.9 L810.8,582.9 L810.8,584.9 L810.7,586.9 L810.7,588.9 L810.6,590.9 L810.6,592.9 L810.5,594.9 L810.5,596.9 L810.4,598.9 L810.3,600.9 L810.3,602.9 L810.2,604.9 L810.1,606.9 L810.0,608.9 L809.9,610.9 L809.8,612.9 L809.7,614.9 L809.6,616.9 L809.5,618.9 L809.5,620.9 L809.5,622.9 L809.5,624.9 L809.6,626.9 L809.7,628.9 L809.8,630.9 L809.9,632.9 L810.0,634.9 L810.1,636.9 L810.2,638.9 L810.2,640.9 L810.3,642.9 L810.3,644.9 L810.3,646.9 L810.4,648.9 L810.4,650.9 L810.4,652.9 L810.4,654.9 L810.5,656.9 L810.5,658.9 L810.5,660.9 L810.6,662.9 L810.6,664.9 L810.6,666.9 L810.6,668.9 L810.6,670.9 L810.7,672.9 L810.7,674.9 L810.7,676.9 L810.7,678.9 L810.7,680.9 L810.7,682.9 L810.8,684.9 L810.8,686.9 L810.8,688.9 L810.8,690.9 L810.8,692.9 L810.8,694.9 L810.8,696.9 L810.8,698.9 L810.8,700.9 L810.8,702.9 L810.7,704.9 L810.6,706.9 L810.4,708.9 L810.3,710.9 L810.2,712.9 L810.0,714.9 L809.9,716.9 L809.8,718.9 L809.8,720.9 L809.7,722.9 L809.6,724.9 L809.6,726.9 L809.5,728.9 L809.5,730.9 L809.5,732.9 L809.5,734.9 L809.6,736.9 L809.7,738.9 L809.8,740.9 L809.9,742.9 L810.0,744.9 L810.1,746.9 L810.2,748.9 L810.2,750.9 L810.3,752.9 L810.3,754.9 L810.4,756.9 L810.4,758.9 L810.5,760.9 L810.5,762.9 L810.5,764.9 L810.5,766.9 L810.5,768.0 L812.0,768.0 L812.1,766.9 L812.1,764.9 L812.1,762.9 L812.1,760.9 L812.2,758.9 L812.2,756.9 L812.3,754.9 L812.3,752.9 L812.4,750.9 L812.4,748.9 L812.5,746.9 L812.6,744.9 L812.7,742.9 L812.8,740.9 L812.9,738.9 L813.0,736.9 L813.1,734.9 L813.1,732.9 L813.1,730.9 L813.1,728.9 L813.0,726.9 L813.0,724.9 L812.9,722.9 L812.8,720.9 L812.8,718.9 L812.7,716.9 L812.6,714.9 L812.4,712.9 L812.3,710.9 L812.2,708.9 L812.0,706.9 L811.9,704.9 L811.8,702.9 L811.8,700.9 L811.8,698.9 L811.8,696.9 L811.8,694.9 L811.8,692.9 L811.8,690.9 L811.8,688.9 L811.8,686.9 L811.8,684.9 L811.9,682.9 L811.9,680.9 L811.9,678.9 L811.9,676.9 L811.9,674.9 L811.9,672.9 L812.0,670.9 L812.0,668.9 L812.0,666.9 L812.0,664.9 L812.0,662.9 L812.1,660.9 L812.1,658.9 L812.1,656.9 L812.2,654.9 L812.2,652.9 L812.2,650.9 L812.2,648.9 L812.3,646.9 L812.3,644.9 L812.3,642.9 L812.4,640.9 L812.4,638.9 L812.5,636.9 L812.6,634.9 L812.7,632.9 L812.8,630.9 L812.9,628.9 L813.0,626.9 L813.1,624.9 L813.1,622.9 L813.1,620.9 L813.1,618.9 L813.0,616.9 L812.9,614.9 L812.8,612.9 L812.7,610.9 L812.6,608.9 L812.5,606.9 L812.4,604.9 L812.3,602.9 L812.3,600.9 L812.2,598.9 L812.1,596.9 L812.1,594.9 L812.0,592.9 L812.0,590.9 L811.9,588.9 L811.9,586.9 L811.8,584.9 L811.8,582.9 L811.8,580.9 L811.8,578.9 L811.8,576.9 L811.8,574.9 L811.8,572.9 L811.8,570.9 L811.8,568.9 L811.8,566.9 L811.8,564.9 L811.8,562.9 L811.8,560.9 L811.8,558.9 L811.8,556.9 L811.8,554.9 L811.8,552.9 L811.8,550.9 L811.8,548.9 L811.8,546.9 L811.8,544.9 L811.8,542.9 L811.8,540.9 L811.8,538.9 L811.8,536.9 L811.8,534.9 L811.8,532.9 L811.9,530.9 L811.9,528.9 L811.9,526.9 L811.9,524.9 L812.0,522.9 L812.0,520.9 L812.0,518.9 L812.1,516.9 L812.2,514.9 L812.3,512.9 L812.5,510.9 L812.7,508.9 L812.9,506.9 L813.0,504.9 L813.2,502.9 L813.4,500.9 L813.5,498.9 L813.7,496.9 L813.8,494.9 L814.0,492.9 L814.1,490.9 L814.3,488.9 L814.4,486.9 L814.6,484.9 L814.8,482.9 L815.0,480.9 L815.2,478.9 L815.5,476.9 L815.8,474.9 L816.0,472.9 L816.3,470.9 L816.6,468.9 L816.9,466.9 L817.1,464.9 L817.4,462.9 L817.6,460.9 L817.9,458.9 L818.1,456.9 L818.3,454.9 L818.6,452.9 L818.8,450.9 L819.1,448.9 L819.3,446.9 L819.6,444.9 L819.8,442.9 L820.1,440.9 L820.3,438.9 L820.6,436.9 L820.8,434.9 L821.1,432.9 L821.3,430.9 L821.5,428.9 L821.8,426.9 L822.0,424.9 L822.3,422.9 L822.5,420.9 L822.8,418.9 L823.0,416.9 L823.3,414.9 L823.5,412.9 L823.8,410.9 L824.0,408.9 L824.3,406.9 L824.5,404.9 L824.8,402.9 L825.0,400.9 L825.3,398.9 L825.5,396.9 L825.8,394.9 L826.1,392.9 L826.4,390.9 L826.7,388.9 L827.1,386.9 L827.4,384.9 L827.8,382.9 L828.1,380.9 L828.5,378.9 L828.9,376.9 L829.3,374.9 L829.6,372.9 L830.0,370.9 L830.4,368.9 L830.8,366.9 L831.2,364.9 L831.7,362.9 L832.2,360.9 L832.8,358.9 L833.5,356.9 L834.5,354.9 L835.5,352.9 L836.2,350.9 L837.0,348.9 L837.6,346.9 L838.2,344.9 L838.8,342.9 L839.4,340.9 L840.0,338.9 L840.5,336.9 L841.0,334.9 L841.6,332.9 L842.1,330.9 L842.6,328.9 L843.2,326.9 L843.7,324.9 L844.2,322.9 L844.6,320.9 L845.1,318.9 L845.5,316.9 L845.9,314.9 L846.3,312.9 L846.7,310.9 L847.1,308.9 L847.5,306.9 L847.8,304.9 L848.1,302.9 L848.4,300.9 L848.7,298.9 L848.9,296.9 L849.1,294.9 L849.3,292.9 L849.5,290.9 L849.7,288.9 L849.9,286.9 L850.0,284.9 L850.1,282.9 L850.1,280.9 L850.1,278.9 L850.0,276.9 L850.0,274.9 L849.9,272.9 L849.7,270.9 L849.6,268.9 L849.3,266.9 L849.0,264.9 L848.7,262.9 L848.3,260.9 L847.9,258.9 L847.4,256.9 L846.9,254.9 L846.4,252.9 L845.8,250.9 L845.1,248.9 L844.5,246.9 L843.9,244.9 L843.2,242.9 L842.4,240.9 L841.7,238.9 L840.8,236.9 L840.0,234.9 L839.1,232.9 L838.3,230.9 L837.4,228.9 L836.6,226.9 L835.8,224.9 L835.0,222.9 L834.2,220.9 L833.4,218.9 L832.6,216.9 L831.8,214.9 L831.0,212.9 L830.2,210.9 L829.4,208.9 L828.7,206.9 L827.9,204.9 L827.1,202.9 L826.3,200.9 L825.5,198.9 L824.8,196.9 L824.1,194.9 L823.4,192.9 L822.7,190.9 L822.1,188.9 L821.5,186.9 L820.9,184.9 L820.3,182.9 L819.8,180.9 L819.3,178.9 L818.8,176.9 L818.3,174.9 L817.8,172.9 L817.4,170.9 L817.0,168.9 L816.6,166.9 L816.2,164.9 L815.8,162.9 L815.5,160.9 L815.2,158.9 L814.9,156.9 L814.6,154.9 L814.3,152.9 L814.1,150.9 L813.9,148.9 L813.7,146.9 L813.5,144.9 L813.3,142.9Z"/>
<path class="v" d="M900.4,145.0 L899.9,147.0 L899.4,149.0 L898.8,151.0 L898.2,153.0 L897.5,155.0 L896.8,157.0 L896.1,159.0 L895.3,161.0 L894.4,163.0 L893.5,165.0 L892.6,167.0 L891.7,169.0 L890.8,171.0 L889.9,173.0 L889.1,175.0 L888.3,177.0 L887.5,179.0 L886.7,181.0 L885.9,183.0 L885.1,185.0 L884.3,187.0 L883.5,189.0 L882.7,191.0 L882.0,193.0 L881.3,195.0 L880.5,197.0 L879.8,199.0 L879.1,201.0 L878.4,203.0 L877.7,205.0 L877.1,207.0 L876.6,209.0 L876.1,211.0 L875.6,213.0 L875.2,215.0 L874.8,217.0 L874.4,219.0 L874.0,221.0 L873.6,223.0 L873.3,225.0 L872.9,227.0 L872.6,229.0 L872.3,231.0 L871.9,233.0 L871.6,235.0 L871.4,237.0 L871.1,239.0 L870.8,241.0 L870.5,243.0 L870.3,245.0 L870.1,247.0 L869.8,249.0 L869.6,251.0 L869.4,253.0 L869.2,255.0 L869.0,257.0 L868.8,259.0 L868.6,261.0 L868.5,263.0 L868.4,265.0 L868.2,267.0 L868.1,269.0 L868.0,271.0 L867.9,273.0 L867.8,275.0 L867.8,277.0 L867.7,279.0 L867.7,281.0 L867.7,283.0 L867.7,285.0 L867.8,287.0 L867.9,289.0 L868.0,291.0 L868.1,293.0 L868.2,295.0 L868.3,297.0 L868.4,299.0 L868.7,301.0 L869.0,303.0 L869.4,305.0 L869.9,307.0 L870.5,309.0 L871.1,311.0 L871.8,313.0 L872.4,315.0 L873.1,317.0 L873.9,319.0 L874.7,321.0 L875.7,323.0 L876.7,325.0 L877.7,327.0 L878.6,329.0 L879.5,331.0 L880.3,333.0 L881.0,335.0 L881.6,337.0 L882.1,339.0 L882.7,341.0 L883.5,343.0 L884.3,345.0 L885.2,347.0 L885.9,349.0 L886.6,351.0 L887.2,353.0 L887.7,355.0 L888.2,357.0 L888.7,359.0 L889.1,361.0 L889.5,363.0 L889.9,365.0 L890.2,367.0 L890.5,369.0 L890.8,371.0 L891.0,373.0 L891.3,375.0 L891.5,377.0 L891.8,379.0 L892.0,381.0 L892.3,383.0 L892.5,385.0 L892.8,387.0 L893.0,389.0 L893.3,391.0 L893.5,393.0 L893.7,395.0 L893.9,397.0 L894.1,399.0 L894.3,401.0 L894.6,403.0 L894.8,405.0 L895.1,407.0 L895.4,409.0 L895.7,411.0 L896.0,413.0 L896.3,415.0 L896.5,417.0 L896.8,419.0 L897.0,421.0 L897.3,423.0 L897.5,425.0 L897.8,427.0 L898.0,429.0 L898.3,431.0 L898.5,433.0 L898.8,435.0 L899.0,437.0 L899.3,439.0 L899.5,441.0 L899.8,443.0 L900.0,445.0 L900.2,447.0 L900.4,448.9 L912.4,448.9 L912.6,447.0 L912.8,445.0 L913.0,443.0 L913.3,441.0 L913.5,439.0 L913.8,437.0 L914.0,435.0 L914.3,433.0 L914.5,431.0 L914.8,429.0 L915.0,427.0 L915.3,425.0 L915.5,423.0 L915.8,421.0 L916.0,419.0 L916.3,417.0 L916.5,415.0 L916.8,413.0 L917.1,411.0 L917.4,409.0 L917.7,407.0 L918.0,405.0 L918.2,403.0 L918.5,401.0 L918.7,399.0 L918.9,397.0 L919.1,395.0 L919.3,393.0 L919.5,391.0 L919.8,389.0 L920.0,387.0 L920.3,385.0 L920.5,383.0 L920.8,381.0 L921.0,379.0 L921.3,377.0 L921.5,375.0 L921.8,373.0 L922.0,371.0 L922.3,369.0 L922.6,367.0 L922.9,365.0 L923.3,363.0 L923.7,361.0 L924.1,359.0 L924.6,357.0 L925.1,355.0 L925.6,353.0 L926.2,351.0 L926.9,349.0 L927.6,347.0 L928.5,345.0 L929.3,343.0 L930.1,341.0 L930.7,339.0 L931.2,337.0 L931.8,335.0 L932.5,333.0 L933.3,331.0 L934.2,329.0 L935.1,327.0 L936.1,325.0 L937.1,323.0 L938.1,321.0 L938.9,319.0 L939.7,317.0 L940.4,315.0 L941.0,313.0 L941.7,311.0 L942.3,309.0 L942.9,307.0 L943.4,305.0 L943.8,303.0 L944.1,301.0 L944.4,299.0 L944.5,297.0 L944.6,295.0 L944.7,293.0 L944.8,291.0 L944.9,289.0 L945.0,287.0 L945.1,285.0 L945.1,283.0 L945.1,281.0 L945.1,279.0 L945.0,277.0 L945.0,275.0 L944.9,273.0 L944.8,271.0 L944.7,269.0 L944.6,267.0 L944.4,265.0 L944.3,263.0 L944.2,261.0 L944.0,259.0 L943.8,257.0 L943.6,255.0 L943.4,253.0 L943.2,251.0 L943.0,249.0 L942.7,247.0 L942.5,245.0 L942.3,243.0 L942.0,241.0 L941.7,239.0 L941.4,237.0 L941.2,235.0 L940.9,233.0 L940.5,231.0 L940.2,229.0 L939.9,227.0 L939.5,225.0 L939.2,223.0 L938.8,221.0 L938.4,219.0 L938.0,217.0 L937.6,215.0 L937.2,213.0 L936.7,211.0 L936.2,209.0 L935.7,207.0 L935.1,205.0 L934.4,203.0 L933.7,201.0 L933.0,199.0 L932.3,197.0 L931.5,195.0 L930.8,193.0 L930.1,191.0 L929.3,189.0 L928.5,187.0 L927.7,185.0 L926.9,183.0 L926.1,181.0 L925.3,179.0 L924.5,177.0 L923.7,175.0 L922.9,173.0 L922.0,171.0 L921.1,169.0 L920.2,167.0 L919.3,165.0 L918.4,163.0 L917.5,161.0 L916.7,159.0 L916.0,157.0 L915.3,155.0 L914.6,153.0 L914.0,151.0 L913.4,149.0 L912.9,147.0 L912.4,145.0Z"/>
<path class="v" d="M998.1,121.4 L998.0,123.4 L997.9,125.4 L997.8,127.4 L997.7,129.4 L997.6,131.4 L997.5,133.4 L997.4,135.4 L997.3,137.4 L997.2,139.4 L997.0,141.4 L996.9,143.4 L996.7,145.4 L996.5,147.4 L996.4,149.4 L996.2,151.4 L996.0,153.4 L995.8,155.4 L995.6,157.4 L995.5,159.4 L995.3,161.4 L995.0,163.4 L994.8,165.4 L994.6,167.4 L994.4,169.4 L994.1,171.4 L993.8,173.4 L993.6,175.4 L993.3,177.4 L992.9,179.4 L992.6,181.4 L992.3,183.4 L991.9,185.4 L991.5,187.4 L991.1,189.4 L990.6,191.4 L990.1,193.4 L989.5,195.4 L988.9,197.4 L988.2,199.4 L987.6,201.4 L986.9,203.4 L986.2,205.4 L985.5,207.4 L984.8,209.4 L984.0,211.4 L983.3,213.4 L982.5,215.4 L981.7,217.4 L980.9,219.4 L980.0,221.4 L979.2,223.4 L978.4,225.4 L977.6,227.4 L976.8,229.4 L976.0,231.4 L975.2,233.4 L974.4,235.4 L973.6,237.4 L972.8,239.4 L972.0,241.4 L971.3,243.4 L970.6,245.4 L969.9,247.4 L969.2,249.4 L968.5,251.4 L967.9,253.4 L967.3,255.4 L966.8,257.4 L966.3,259.4 L965.9,261.4 L965.5,263.4 L965.1,265.4 L964.8,267.4 L964.4,269.4 L964.1,271.4 L963.9,273.4 L963.7,275.4 L963.5,277.4 L963.4,279.4 L963.2,281.4 L963.1,283.4 L963.0,285.4 L962.9,287.4 L962.8,289.4 L962.8,291.4 L962.7,293.4 L962.7,295.4 L962.7,297.4 L962.7,299.4 L962.7,301.4 L962.8,303.4 L962.8,305.4 L962.8,307.4 L962.9,309.4 L962.9,311.4 L963.0,313.4 L963.0,315.4 L963.1,317.4 L963.2,319.4 L963.4,321.4 L963.5,323.4 L963.7,325.4 L963.9,327.4 L964.2,329.4 L964.4,331.4 L964.7,333.4 L965.1,335.4 L965.7,337.4 L966.3,339.4 L967.0,341.4 L967.7,343.4 L968.3,345.4 L969.0,347.4 L969.8,349.4 L970.6,351.4 L971.5,353.4 L972.3,355.4 L973.2,357.4 L974.0,359.4 L974.8,361.4 L975.6,363.4 L976.4,365.4 L977.2,367.4 L978.0,369.4 L978.8,371.4 L979.6,373.4 L980.3,375.4 L981.1,377.4 L981.8,379.4 L982.5,381.4 L983.2,383.4 L983.9,385.4 L984.6,387.4 L985.2,389.4 L985.9,391.4 L986.5,393.4 L987.1,395.4 L987.6,397.4 L988.2,399.4 L988.7,401.4 L989.2,403.4 L989.7,405.4 L990.2,407.4 L990.7,409.4 L991.1,411.4 L991.6,413.4 L992.0,415.4 L992.4,417.4 L992.7,419.4 L993.1,421.4 L993.5,423.4 L993.8,425.4 L994.2,427.4 L994.5,429.4 L994.8,431.4 L995.1,433.4 L995.4,435.4 L995.8,437.4 L996.1,439.4 L996.4,441.4 L996.7,443.4 L997.0,445.4 L997.3,447.4 L997.6,449.4 L997.8,451.4 L998.1,453.4 L998.3,455.4 L998.5,457.4 L998.7,459.4 L998.9,461.4 L999.1,463.4 L999.2,465.4 L999.4,467.4 L999.5,469.4 L999.7,471.4 L999.8,473.4 L999.9,475.4 L1000.0,477.4 L1000.1,479.4 L1000.2,481.4 L1000.3,483.4 L1000.4,485.4 L1000.5,487.4 L1000.6,489.4 L1000.7,491.4 L1000.7,493.4 L1000.7,495.4 L1000.7,497.4 L1000.7,499.4 L1000.7,501.4 L1000.7,503.4 L1000.7,505.4 L1000.7,507.4 L1000.7,509.4 L1000.7,511.4 L1000.7,513.4 L1000.7,515.4 L1000.6,517.4 L1000.6,519.4 L1000.6,521.4 L1000.6,523.4 L1000.6,525.4 L1000.6,527.4 L1000.5,529.4 L1000.5,531.4 L1000.5,533.4 L1000.5,535.4 L1000.5,537.4 L1000.5,539.4 L1000.4,541.4 L1000.4,543.4 L1000.4,545.4 L1000.4,547.4 L1000.4,549.4 L1000.4,551.4 L1000.4,553.4 L1000.4,555.4 L1000.4,557.4 L1000.4,559.4 L1000.4,561.4 L1000.4,563.4 L1000.5,565.4 L1000.5,567.4 L1000.5,569.4 L1000.5,571.4 L1000.5,573.4 L1000.6,575.4 L1000.6,577.4 L1000.6,579.4 L1000.6,581.4 L1000.6,583.4 L1000.7,585.4 L1000.7,587.4 L1000.7,589.4 L1000.7,591.4 L1000.7,593.4 L1000.7,595.4 L1000.7,597.4 L1000.7,599.4 L1000.8,601.4 L1000.8,603.4 L1000.8,605.4 L1000.8,607.4 L1000.8,609.4 L1000.8,611.4 L1000.8,613.4 L1000.8,615.4 L1000.8,617.4 L1000.8,619.4 L1000.8,621.4 L1000.8,623.4 L1000.8,625.4 L1000.8,627.4 L1000.8,629.4 L1000.8,631.4 L1000.8,633.4 L1000.8,635.4 L1000.8,637.4 L1000.8,639.4 L1000.8,641.4 L1000.8,643.4 L1000.8,645.3 L1002.2,645.3 L1002.2,643.4 L1002.2,641.4 L1002.2,639.4 L1002.2,637.4 L1002.2,635.4 L1002.2,633.4 L1002.2,631.4 L1002.2,629.4 L1002.2,627.4 L1002.2,625.4 L1002.2,623.4 L1002.2,621.4 L1002.2,619.4 L1002.2,617.4 L1002.2,615.4 L1002.2,613.4 L1002.2,611.4 L1002.2,609.4 L1002.2,607.4 L1002.2,605.4 L1002.2,603.4 L1002.2,601.4 L1002.3,599.4 L1002.3,597.4 L1002.3,595.4 L1002.3,593.4 L1002.3,591.4 L1002.3,589.4 L1002.3,587.4 L1002.3,585.4 L1002.4,583.4 L1002.4,581.4 L1002.4,579.4 L1002.4,577.4 L1002.4,575.4 L1002.5,573.4 L1002.5,571.4 L1002.5,569.4 L1002.5,567.4 L1002.5,565.4 L1002.6,563.4 L1002.6,561.4 L1002.6,559.4 L1002.6,557.4 L1002.6,555.4 L1002.6,553.4 L1002.6,551.4 L1002.6,549.4 L1002.6,547.4 L1002.6,545.4 L1002.6,543.4 L1002.6,541.4 L1002.5,539.4 L1002.5,537.4 L1002.5,535.4 L1002.5,533.4 L1002.5,531.4 L1002.5,529.4 L1002.4,527.4 L1002.4,525.4 L1002.4,523.4 L1002.4,521.4 L1002.4,519.4 L1002.4,517.4 L1002.3,515.4 L1002.3,513.4 L1002.3,511.4 L1002.3,509.4 L1002.3,507.4 L1002.3,505.4 L1002.3,503.4 L1002.3,501.4 L1002.3,499.4 L1002.3,497.4 L1002.3,495.4 L1002.3,493.4 L1002.3,491.4 L1002.4,489.4 L1002.5,487.4 L1002.6,485.4 L1002.7,483.4 L1002.8,481.4 L1002.9,479.4 L1003.0,477.4 L1003.1,475.4 L1003.2,473.4 L1003.3,471.4 L1003.5,469.4 L1003.6,467.4 L1003.8,465.4 L1003.9,463.4 L1004.1,461.4 L1004.3,459.4 L1004.5,457.4 L1004.7,455.4 L1004.9,453.4 L1005.2,451.4 L1005.4,449.4 L1005.7,447.4 L1006.0,445.4 L1006.3,443.4 L1006.6,441.4 L1006.9,439.4 L1007.2,437.4 L1007.6,435.4 L1007.9,433.4 L1008.2,431.4 L1008.5,429.4 L1008.8,427.4 L1009.2,425.4 L1009.5,423.4 L1009.9,421.4 L1010.3,419.4 L1010.6,417.4 L1011.0,415.4 L1011.4,413.4 L1011.9,411.4 L1012.3,409.4 L1012.8,407.4 L1013.3,405.4 L1013.8,403.4 L1014.3,401.4 L1014.8,399.4 L1015.4,397.4 L1015.9,395.4 L1016.5,393.4 L1017.1,391.4 L1017.8,389.4 L1018.4,387.4 L1019.1,385.4 L1019.8,383.4 L1020.5,381.4 L1021.2,379.4 L1021.9,377.4 L1022.7,375.4 L1023.4,373.4 L1024.2,371.4 L1025.0,369.4 L1025.8,367.4 L1026.6,365.4 L1027.4,363.4 L1028.2,361.4 L1029.0,359.4 L1029.8,357.4 L1030.7,355.4 L1031.5,353.4 L1032.4,351.4 L1033.2,349.4 L1034.0,347.4 L1034.7,345.4 L1035.3,343.4 L1036.0,341.4 L1036.7,339.4 L1037.3,337.4 L1037.9,335.4 L1038.3,333.4 L1038.6,331.4 L1038.8,329.4 L1039.1,327.4 L1039.3,325.4 L1039.5,323.4 L1039.6,321.4 L1039.8,319.4 L1039.9,317.4 L1040.0,315.4 L1040.0,313.4 L1040.1,311.4 L1040.1,309.4 L1040.2,307.4 L1040.2,305.4 L1040.2,303.4 L1040.3,301.4 L1040.3,299.4 L1040.3,297.4 L1040.3,295.4 L1040.3,293.4 L1040.2,291.4 L1040.2,289.4 L1040.1,287.4 L1040.0,285.4 L1039.9,283.4 L1039.8,281.4 L1039.6,279.4 L1039.5,277.4 L1039.3,275.4 L1039.1,273.4 L1038.9,271.4 L1038.6,269.4 L1038.2,267.4 L1037.9,265.4 L1037.5,263.4 L1037.1,261.4 L1036.7,259.4 L1036.2,257.4 L1035.7,255.4 L1035.1,253.4 L1034.5,251.4 L1033.8,249.4 L1033.1,247.4 L1032.4,245.4 L1031.7,243.4 L1031.0,241.4 L1030.2,239.4 L1029.4,237.4 L1028.6,235.4 L1027.8,233.4 L1027.0,231.4 L1026.2,229.4 L1025.4,227.4 L1024.6,225.4 L1023.8,223.4 L1023.0,221.4 L1022.1,219.4 L1021.3,217.4 L1020.5,215.4 L1019.7,213.4 L1019.0,211.4 L1018.2,209.4 L1017.5,207.4 L1016.8,205.4 L1016.1,203.4 L1015.4,201.4 L1014.8,199.4 L1014.1,197.4 L1013.5,195.4 L1012.9,193.4 L1012.4,191.4 L1011.9,189.4 L1011.5,187.4 L1011.1,185.4 L1010.7,183.4 L1010.4,181.4 L1010.1,179.4 L1009.7,177.4 L1009.4,175.4 L1009.2,173.4 L1008.9,171.4 L1008.6,169.4 L1008.4,167.4 L1008.2,165.4 L1008.0,163.4 L1007.7,161.4 L1007.5,159.4 L1007.4,157.4 L1007.2,155.4 L1007.0,153.4 L1006.8,151.4 L1006.6,149.4 L1006.5,147.4 L1006.3,145.4 L1006.1,143.4 L1006.0,141.4 L1005.8,139.4 L1005.7,137.4 L1005.6,135.4 L1005.5,133.4 L1005.4,131.4 L1005.3,129.4 L1005.2,127.4 L1005.1,125.4 L1005.0,123.4 L1004.9,121.4Z"/>
<path class="v" d="M1093.0,141.1 L1092.9,143.1 L1092.8,145.1 L1092.6,147.1 L1092.4,149.1 L1092.2,151.1 L1091.9,153.1 L1091.7,155.1 L1091.4,157.1 L1091.1,159.1 L1090.7,161.1 L1090.3,163.1 L1089.9,165.1 L1089.4,167.1 L1088.9,169.1 L1088.4,171.1 L1087.8,173.1 L1087.3,175.1 L1086.6,177.1 L1086.0,179.1 L1085.2,181.1 L1084.5,183.1 L1083.7,185.1 L1083.0,187.1 L1082.2,189.1 L1081.5,191.1 L1080.8,193.1 L1080.1,195.1 L1079.5,197.1 L1078.8,199.1 L1078.2,201.1 L1077.5,203.1 L1076.8,205.1 L1076.2,207.1 L1075.5,209.1 L1074.8,211.1 L1074.1,213.1 L1073.3,215.1 L1072.6,217.1 L1071.9,219.1 L1071.2,221.1 L1070.4,223.1 L1069.7,225.1 L1068.9,227.1 L1068.1,229.1 L1067.3,231.1 L1066.4,233.1 L1065.5,235.1 L1064.7,237.1 L1063.8,239.1 L1063.1,241.1 L1062.4,243.1 L1061.8,245.1 L1061.2,247.1 L1060.7,249.1 L1060.1,251.1 L1059.6,253.1 L1059.2,255.1 L1058.8,257.1 L1058.4,259.1 L1058.2,261.1 L1058.0,263.1 L1057.9,265.1 L1057.7,267.1 L1057.6,269.1 L1057.6,271.1 L1057.6,273.1 L1057.8,275.1 L1058.0,277.1 L1058.2,279.1 L1058.4,281.1 L1058.7,283.1 L1058.9,285.1 L1059.2,287.1 L1059.5,289.1 L1059.8,291.1 L1060.2,293.1 L1060.5,295.1 L1060.8,297.1 L1061.2,299.1 L1061.5,301.1 L1061.9,303.1 L1062.2,305.1 L1062.6,307.1 L1063.0,309.1 L1063.4,311.1 L1063.8,313.1 L1064.2,315.1 L1064.7,317.1 L1065.2,319.1 L1065.8,321.1 L1066.4,323.1 L1067.0,325.1 L1067.7,327.1 L1068.3,329.1 L1068.9,331.1 L1069.5,333.1 L1070.0,335.1 L1070.4,337.1 L1070.9,339.1 L1071.4,341.1 L1071.9,343.1 L1072.4,345.1 L1072.9,347.1 L1073.4,349.1 L1074.0,351.1 L1074.5,353.1 L1075.0,355.1 L1075.5,357.1 L1075.9,359.1 L1076.4,361.1 L1076.8,363.1 L1077.3,365.1 L1077.7,367.1 L1078.1,369.1 L1078.6,371.1 L1079.0,373.1 L1079.4,375.1 L1079.8,377.1 L1080.2,379.1 L1080.7,381.1 L1081.1,383.1 L1081.5,385.1 L1081.9,387.1 L1082.3,389.1 L1082.7,391.1 L1083.1,393.1 L1083.5,395.1 L1083.9,397.1 L1084.4,399.1 L1084.8,401.1 L1085.1,403.1 L1085.5,405.1 L1085.9,407.1 L1086.3,409.1 L1086.6,411.1 L1087.0,413.1 L1087.3,415.1 L1087.6,417.1 L1088.0,419.1 L1088.3,421.1 L1088.6,423.1 L1088.9,425.1 L1089.2,427.1 L1089.4,429.1 L1089.7,431.1 L1090.0,433.1 L1090.2,435.1 L1090.5,437.1 L1090.7,439.1 L1090.9,441.1 L1091.2,443.1 L1091.4,445.1 L1091.6,447.1 L1091.9,449.1 L1092.1,451.1 L1092.3,453.1 L1092.4,455.1 L1092.6,457.1 L1092.8,459.1 L1093.0,461.1 L1093.2,463.1 L1093.3,465.1 L1093.5,467.1 L1093.6,469.1 L1093.7,471.1 L1093.8,473.1 L1093.9,475.1 L1094.0,477.1 L1094.1,479.1 L1094.1,481.1 L1094.2,483.1 L1094.3,485.1 L1094.3,487.1 L1094.3,489.1 L1094.4,491.1 L1094.4,493.1 L1094.4,495.1 L1094.4,497.1 L1094.5,499.1 L1094.5,501.1 L1094.5,503.1 L1094.5,505.1 L1094.5,507.1 L1094.5,509.1 L1094.6,511.1 L1094.6,513.1 L1094.6,515.1 L1094.6,517.1 L1094.6,519.1 L1094.6,521.1 L1094.6,523.1 L1094.6,525.1 L1094.6,527.1 L1094.7,529.1 L1094.7,531.1 L1094.7,533.1 L1094.7,535.1 L1094.7,537.1 L1094.7,538.9 L1098.5,538.9 L1098.5,537.1 L1098.5,535.1 L1098.5,533.1 L1098.5,531.1 L1098.5,529.1 L1098.6,527.1 L1098.6,525.1 L1098.6,523.1 L1098.6,521.1 L1098.6,519.1 L1098.6,517.1 L1098.6,515.1 L1098.6,513.1 L1098.6,511.1 L1098.7,509.1 L1098.7,507.1 L1098.7,505.1 L1098.7,503.1 L1098.7,501.1 L1098.7,499.1 L1098.8,497.1 L1098.8,495.1 L1098.8,493.1 L1098.8,491.1 L1098.9,489.1 L1098.9,487.1 L1098.9,485.1 L1099.0,483.1 L1099.1,481.1 L1099.1,479.1 L1099.2,477.1 L1099.3,475.1 L1099.4,473.1 L1099.5,471.1 L1099.6,469.1 L1099.7,467.1 L1099.9,465.1 L1100.0,463.1 L1100.2,461.1 L1100.4,459.1 L1100.6,457.1 L1100.8,455.1 L1100.9,453.1 L1101.1,451.1 L1101.3,449.1 L1101.6,447.1 L1101.8,445.1 L1102.0,443.1 L1102.3,441.1 L1102.5,439.1 L1102.7,437.1 L1103.0,435.1 L1103.2,433.1 L1103.5,431.1 L1103.8,429.1 L1104.0,427.1 L1104.3,425.1 L1104.6,423.1 L1104.9,421.1 L1105.2,419.1 L1105.6,417.1 L1105.9,415.1 L1106.2,413.1 L1106.6,411.1 L1106.9,409.1 L1107.3,407.1 L1107.7,405.1 L1108.1,403.1 L1108.4,401.1 L1108.8,399.1 L1109.3,397.1 L1109.7,395.1 L1110.1,393.1 L1110.5,391.1 L1110.9,389.1 L1111.3,387.1 L1111.7,385.1 L1112.1,383.1 L1112.5,381.1 L1113.0,379.1 L1113.4,377.1 L1113.8,375.1 L1114.2,373.1 L1114.6,371.1 L1115.1,369.1 L1115.5,367.1 L1115.9,365.1 L1116.4,363.1 L1116.8,361.1 L1117.3,359.1 L1117.7,357.1 L1118.2,355.1 L1118.7,353.1 L1119.2,351.1 L1119.8,349.1 L1120.3,347.1 L1120.8,345.1 L1121.3,343.1 L1121.8,341.1 L1122.3,339.1 L1122.8,337.1 L1123.2,335.1 L1123.7,333.1 L1124.3,331.1 L1124.9,329.1 L1125.5,327.1 L1126.2,325.1 L1126.8,323.1 L1127.4,321.1 L1128.0,319.1 L1128.5,317.1 L1129.0,315.1 L1129.4,313.1 L1129.8,311.1 L1130.2,309.1 L1130.6,307.1 L1131.0,305.1 L1131.3,303.1 L1131.7,301.1 L1132.0,299.1 L1132.4,297.1 L1132.7,295.1 L1133.0,293.1 L1133.4,291.1 L1133.7,289.1 L1134.0,287.1 L1134.3,285.1 L1134.5,283.1 L1134.8,281.1 L1135.0,279.1 L1135.2,277.1 L1135.4,275.1 L1135.6,273.1 L1135.6,271.1 L1135.6,269.1 L1135.5,267.1 L1135.3,265.1 L1135.2,263.1 L1135.0,261.1 L1134.8,259.1 L1134.4,257.1 L1134.0,255.1 L1133.6,253.1 L1133.1,251.1 L1132.5,249.1 L1132.0,247.1 L1131.4,245.1 L1130.8,243.1 L1130.1,241.1 L1129.4,239.1 L1128.5,237.1 L1127.7,235.1 L1126.8,233.1 L1125.9,231.1 L1125.1,229.1 L1124.3,227.1 L1123.5,225.1 L1122.8,223.1 L1122.0,221.1 L1121.3,219.1 L1120.6,217.1 L1119.9,215.1 L1119.1,213.1 L1118.4,211.1 L1117.7,209.1 L1117.0,207.1 L1116.4,205.1 L1115.7,203.1 L1115.0,201.1 L1114.4,199.1 L1113.7,197.1 L1113.1,195.1 L1112.4,193.1 L1111.7,191.1 L1111.0,189.1 L1110.2,187.1 L1109.5,185.1 L1108.7,183.1 L1108.0,181.1 L1107.2,179.1 L1106.6,177.1 L1105.9,175.1 L1105.4,173.1 L1104.8,171.1 L1104.3,169.1 L1103.8,167.1 L1103.3,165.1 L1102.9,163.1 L1102.5,161.1 L1102.1,159.1 L1101.8,157.1 L1101.5,155.1 L1101.3,153.1 L1101.0,151.1 L1100.8,149.1 L1100.6,147.1 L1100.4,145.1 L1100.3,143.1 L1100.2,141.1Z"/>
<path class="v" d="M1189.5,121.5 L1189.2,123.5 L1188.9,125.5 L1188.7,127.5 L1188.5,129.5 L1188.3,131.5 L1188.2,133.5 L1188.0,135.5 L1187.9,137.5 L1187.7,139.5 L1187.6,141.5 L1187.5,143.5 L1187.3,145.5 L1187.2,147.5 L1187.0,149.5 L1186.8,151.5 L1186.7,153.5 L1186.4,155.5 L1186.2,157.5 L1186.0,159.5 L1185.7,161.5 L1185.4,163.5 L1185.1,165.5 L1184.7,167.5 L1184.4,169.5 L1184.0,171.5 L1183.6,173.5 L1183.2,175.5 L1182.8,177.5 L1182.4,179.5 L1181.9,181.5 L1181.5,183.5 L1181.0,185.5 L1180.4,187.5 L1179.8,189.5 L1179.2,191.5 L1178.6,193.5 L1177.9,195.5 L1177.2,197.5 L1176.4,199.5 L1175.7,201.5 L1175.0,203.5 L1174.2,205.5 L1173.5,207.5 L1172.7,209.5 L1172.0,211.5 L1171.2,213.5 L1170.4,215.5 L1169.6,217.5 L1168.7,219.5 L1167.9,221.5 L1167.0,223.5 L1166.2,225.5 L1165.3,227.5 L1164.5,229.5 L1163.6,231.5 L1162.8,233.5 L1162.0,235.5 L1161.2,237.5 L1160.5,239.5 L1159.7,241.5 L1158.9,243.5 L1158.1,245.5 L1157.4,247.5 L1156.7,249.5 L1156.2,251.5 L1155.7,253.5 L1155.1,255.5 L1154.6,257.5 L1154.2,259.5 L1153.8,261.5 L1153.6,263.5 L1153.5,265.5 L1153.4,267.5 L1153.4,269.5 L1153.4,271.5 L1153.3,273.5 L1153.3,275.5 L1153.3,277.5 L1153.3,279.5 L1153.5,281.5 L1153.8,283.5 L1154.3,285.5 L1154.8,287.5 L1155.4,289.5 L1156.0,291.5 L1156.5,293.5 L1157.1,295.5 L1157.7,297.5 L1158.3,299.5 L1158.9,301.5 L1159.6,303.5 L1160.2,305.5 L1160.8,307.5 L1161.5,309.5 L1162.1,311.5 L1162.8,313.5 L1163.4,315.5 L1164.1,317.5 L1164.7,319.5 L1165.3,321.5 L1165.8,323.5 L1166.4,325.5 L1167.0,327.5 L1167.5,329.5 L1168.0,331.5 L1168.6,333.5 L1169.1,335.5 L1169.6,337.5 L1170.1,339.5 L1170.6,341.5 L1171.1,343.5 L1171.6,345.5 L1172.1,347.5 L1172.7,349.5 L1173.2,351.5 L1173.7,353.5 L1174.1,355.5 L1174.6,357.5 L1175.1,359.5 L1175.6,361.5 L1176.1,363.5 L1176.6,365.5 L1177.1,367.5 L1177.6,369.5 L1178.1,371.5 L1178.6,373.5 L1179.2,375.5 L1179.7,377.5 L1180.3,379.5 L1180.9,381.5 L1181.6,383.5 L1182.2,385.5 L1182.7,387.5 L1183.2,389.5 L1183.7,391.5 L1184.2,393.5 L1184.6,395.5 L1185.0,397.5 L1185.4,399.5 L1185.8,401.5 L1186.1,403.5 L1186.4,405.5 L1186.7,407.5 L1187.0,409.5 L1187.3,411.5 L1187.6,413.5 L1187.8,415.5 L1188.0,417.5 L1188.2,419.5 L1188.4,421.5 L1188.5,423.5 L1188.7,425.5 L1188.8,427.5 L1189.0,429.5 L1189.1,431.5 L1189.1,433.5 L1189.2,435.5 L1189.3,437.5 L1189.3,439.5 L1189.4,441.5 L1189.5,443.5 L1189.6,445.5 L1189.6,447.5 L1189.7,449.0 L1193.7,449.0 L1193.8,447.5 L1193.8,445.5 L1193.9,443.5 L1194.0,441.5 L1194.1,439.5 L1194.1,437.5 L1194.2,435.5 L1194.3,433.5 L1194.3,431.5 L1194.4,429.5 L1194.6,427.5 L1194.7,425.5 L1194.9,423.5 L1195.0,421.5 L1195.2,419.5 L1195.4,417.5 L1195.6,415.5 L1195.8,413.5 L1196.1,411.5 L1196.4,409.5 L1196.7,407.5 L1197.0,405.5 L1197.3,403.5 L1197.6,401.5 L1198.0,399.5 L1198.4,397.5 L1198.8,395.5 L1199.2,393.5 L1199.7,391.5 L1200.2,389.5 L1200.7,387.5 L1201.2,385.5 L1201.8,383.5 L1202.5,381.5 L1203.1,379.5 L1203.7,377.5 L1204.2,375.5 L1204.8,373.5 L1205.3,371.5 L1205.8,369.5 L1206.3,367.5 L1206.8,365.5 L1207.3,363.5 L1207.8,361.5 L1208.3,359.5 L1208.8,357.5 L1209.3,355.5 L1209.7,353.5 L1210.2,351.5 L1210.7,349.5 L1211.3,347.5 L1211.8,345.5 L1212.3,343.5 L1212.8,341.5 L1213.3,339.5 L1213.8,337.5 L1214.3,335.5 L1214.8,333.5 L1215.4,331.5 L1215.9,329.5 L1216.4,327.5 L1217.0,325.5 L1217.6,323.5 L1218.1,321.5 L1218.7,319.5 L1219.3,317.5 L1220.0,315.5 L1220.6,313.5 L1221.3,311.5 L1221.9,309.5 L1222.6,307.5 L1223.2,305.5 L1223.8,303.5 L1224.5,301.5 L1225.1,299.5 L1225.7,297.5 L1226.3,295.5 L1226.9,293.5 L1227.4,291.5 L1228.0,289.5 L1228.6,287.5 L1229.1,285.5 L1229.6,283.5 L1229.9,281.5 L1230.1,279.5 L1230.1,277.5 L1230.1,275.5 L1230.1,273.5 L1230.0,271.5 L1230.0,269.5 L1230.0,267.5 L1229.9,265.5 L1229.8,263.5 L1229.6,261.5 L1229.2,259.5 L1228.8,257.5 L1228.3,255.5 L1227.7,253.5 L1227.2,251.5 L1226.7,249.5 L1226.0,247.5 L1225.3,245.5 L1224.5,243.5 L1223.7,241.5 L1222.9,239.5 L1222.2,237.5 L1221.4,235.5 L1220.6,233.5 L1219.8,231.5 L1218.9,229.5 L1218.1,227.5 L1217.2,225.5 L1216.4,223.5 L1215.5,221.5 L1214.7,219.5 L1213.8,217.5 L1213.0,215.5 L1212.2,213.5 L1211.4,211.5 L1210.7,209.5 L1209.9,207.5 L1209.2,205.5 L1208.4,203.5 L1207.7,201.5 L1207.0,199.5 L1206.2,197.5 L1205.5,195.5 L1204.8,193.5 L1204.2,191.5 L1203.6,189.5 L1203.0,187.5 L1202.4,185.5 L1201.9,183.5 L1201.5,181.5 L1201.0,179.5 L1200.6,177.5 L1200.2,175.5 L1199.8,173.5 L1199.4,171.5 L1199.0,169.5 L1198.7,167.5 L1198.3,165.5 L1198.0,163.5 L1197.7,161.5 L1197.4,159.5 L1197.2,157.5 L1197.0,155.5 L1196.7,153.5 L1196.6,151.5 L1196.4,149.5 L1196.2,147.5 L1196.1,145.5 L1195.9,143.5 L1195.8,141.5 L1195.7,139.5 L1195.5,137.5 L1195.4,135.5 L1195.2,133.5 L1195.1,131.5 L1194.9,129.5 L1194.7,127.5 L1194.5,125.5 L1194.2,123.5 L1193.9,121.5Z"/>
<g class="d">
<g class="y"><circle cx="811.4" cy="548.2" r="5.5"/><circle cx="811.4" cy="578.4" r="5.5"/><circle cx="808.1" cy="467.7" r="5.5"/><circle cx="813.9" cy="469.6" r="5.5"/><circle cx="810.5" cy="451.6" r="5.5"/><circle cx="813.5" cy="454.3" r="5.5"/><circle cx="802.8" cy="435.9" r="5.5"/><circle cx="801.5" cy="415.9" r="5.5"/><circle cx="820.6" cy="415.9" r="5.5"/><circle cx="797.1" cy="392.1" r="5.5"/><circle cx="809.9" cy="396.2" r="5.5"/><circle cx="818.0" cy="404.3" r="5.5"/></g>
<g class="p"><circle cx="808.7" cy="485.7" r="5.5"/><circle cx="807.4" cy="409.6" r="5.5"/><circle cx="824.8" cy="393.6" r="5.5"/><circle cx="796.7" cy="377.5" r="5.5"/><circle cx="824.6" cy="377.5" r="5.5"/><circle cx="809.0" cy="362.9" r="5.5"/><circle cx="813.5" cy="358.8" r="5.5"/><circle cx="818.9" cy="366.8" r="5.5"/><circle cx="807.6" cy="348.9" r="5.5"/><circle cx="831.4" cy="348.0" r="5.5"/><circle cx="829.6" cy="342.7" r="5.5"/><circle cx="838.5" cy="340.0" r="5.5"/></g>
<g class="t"><circle cx="818.5" cy="438.8" r="5.5"/><circle cx="811.7" cy="434.1" r="5.5"/><circle cx="804.2" cy="423.9" r="5.5"/><circle cx="816.7" cy="426.2" r="5.5"/><circle cx="809.0" cy="415.9" r="5.5"/><circle cx="813.9" cy="414.1" r="5.5"/><circle cx="803.7" cy="404.3" r="5.5"/><circle cx="799.2" cy="382.9" r="5.5"/><circle cx="823.3" cy="371.2" r="5.5"/><circle cx="830.5" cy="361.4" r="5.5"/><circle cx="824.2" cy="357.9" r="5.5"/><circle cx="818.9" cy="353.9" r="5.5"/><circle cx="810.8" cy="340.9" r="5.5"/></g>
<g class="y"><circle cx="811.2" cy="768.0" r="5.5"/><circle cx="810.9" cy="738.4" r="5.5"/><circle cx="811.8" cy="726.4" r="5.5"/><circle cx="810.5" cy="626.4" r="5.5"/><circle cx="811.6" cy="618.8" r="5.5"/><circle cx="908.9" cy="145.0" r="5.5"/><circle cx="900.1" cy="164.6" r="5.5"/><circle cx="915.3" cy="167.3" r="5.5"/><circle cx="901.4" cy="177.5" r="5.5"/><circle cx="910.3" cy="182.0" r="5.5"/><circle cx="889.8" cy="186.1" r="5.5"/><circle cx="890.6" cy="192.9" r="5.5"/><circle cx="902.6" cy="191.1" r="5.5"/><circle cx="913.9" cy="192.7" r="5.5"/><circle cx="924.6" cy="189.6" r="5.5"/><circle cx="921.9" cy="201.2" r="5.5"/><circle cx="879.4" cy="210.2" r="5.5"/><circle cx="894.2" cy="207.9" r="5.5"/><circle cx="908.5" cy="208.4" r="5.5"/><circle cx="903.1" cy="211.1" r="5.5"/><circle cx="918.0" cy="211.6" r="5.5"/><circle cx="933.0" cy="209.8" r="5.5"/><circle cx="888.0" cy="214.6" r="5.5"/><circle cx="895.5" cy="218.6" r="5.5"/><circle cx="925.8" cy="215.5" r="5.5"/><circle cx="878.5" cy="225.7" r="5.5"/><circle cx="898.7" cy="226.8" r="5.5"/><circle cx="910.6" cy="226.2" r="5.5"/><circle cx="914.8" cy="230.7" r="5.5"/><circle cx="931.4" cy="226.6" r="5.5"/><circle cx="881.7" cy="231.6" r="5.5"/><circle cx="890.3" cy="232.9" r="5.5"/><circle cx="923.7" cy="232.1" r="5.5"/><circle cx="873.1" cy="240.5" r="5.5"/><circle cx="907.1" cy="239.3" r="5.5"/><circle cx="905.3" cy="246.8" r="5.5"/><circle cx="940.1" cy="244.1" r="5.5"/><circle cx="922.8" cy="248.2" r="5.5"/><circle cx="887.4" cy="256.1" r="5.5"/><circle cx="932.2" cy="258.4" r="5.5"/><circle cx="877.8" cy="264.3" r="5.5"/><circle cx="896.0" cy="262.3" r="5.5"/><circle cx="900.5" cy="266.1" r="5.5"/><circle cx="913.9" cy="263.8" r="5.5"/><circle cx="918.9" cy="266.4" r="5.5"/><circle cx="938.0" cy="265.5" r="5.5"/><circle cx="881.7" cy="268.8" r="5.5"/><circle cx="891.2" cy="271.8" r="5.5"/><circle cx="909.8" cy="272.3" r="5.5"/><circle cx="928.7" cy="271.2" r="5.5"/><circle cx="872.2" cy="276.2" r="5.5"/><circle cx="940.6" cy="276.2" r="5.5"/><circle cx="884.0" cy="279.5" r="5.5"/><circle cx="902.8" cy="278.0" r="5.5"/><circle cx="921.9" cy="278.0" r="5.5"/><circle cx="931.4" cy="285.2" r="5.5"/><circle cx="893.3" cy="290.2" r="5.5"/><circle cx="874.6" cy="293.8" r="5.5"/><circle cx="912.4" cy="292.3" r="5.5"/><circle cx="935.3" cy="296.8" r="5.5"/><circle cx="879.9" cy="300.0" r="5.5"/><circle cx="898.3" cy="297.7" r="5.5"/><circle cx="916.9" cy="299.5" r="5.5"/><circle cx="925.8" cy="300.7" r="5.5"/><circle cx="889.4" cy="302.7" r="5.5"/><circle cx="871.9" cy="305.7" r="5.5"/><circle cx="907.6" cy="304.8" r="5.5"/><circle cx="904.0" cy="311.4" r="5.5"/><circle cx="888.0" cy="313.8" r="5.5"/><circle cx="920.6" cy="312.5" r="5.5"/><circle cx="938.3" cy="311.1" r="5.5"/><circle cx="928.5" cy="314.6" r="5.5"/><circle cx="896.5" cy="317.9" r="5.5"/><circle cx="912.1" cy="318.2" r="5.5"/><circle cx="881.7" cy="321.4" r="5.5"/><circle cx="930.8" cy="321.4" r="5.5"/><circle cx="901.0" cy="325.0" r="5.5"/><circle cx="888.5" cy="331.6" r="5.5"/><circle cx="914.8" cy="331.6" r="5.5"/><circle cx="920.6" cy="332.9" r="5.5"/><circle cx="906.4" cy="448.6" r="5.5"/><circle cx="902.0" cy="432.2" r="5.5"/><circle cx="911.1" cy="429.8" r="5.5"/><circle cx="899.6" cy="427.8" r="5.5"/><circle cx="909.0" cy="421.0" r="5.5"/><circle cx="903.8" cy="403.5" r="5.5"/><circle cx="895.2" cy="394.2" r="5.5"/><circle cx="916.0" cy="394.4" r="5.5"/><circle cx="908.0" cy="389.5" r="5.5"/><circle cx="901.2" cy="385.8" r="5.5"/><circle cx="915.6" cy="381.7" r="5.5"/><circle cx="896.2" cy="367.9" r="5.5"/><circle cx="904.3" cy="364.5" r="5.5"/><circle cx="912.7" cy="367.1" r="5.5"/><circle cx="921.8" cy="360.1" r="5.5"/><circle cx="888.9" cy="354.3" r="5.5"/><circle cx="897.6" cy="347.8" r="5.5"/><circle cx="907.7" cy="350.7" r="5.5"/><circle cx="1001.4" cy="121.4" r="5.5"/><circle cx="1003.5" cy="144.6" r="5.5"/><circle cx="998.5" cy="161.2" r="5.5"/><circle cx="1007.6" cy="183.4" r="5.5"/><circle cx="998.5" cy="192.0" r="5.5"/><circle cx="992.4" cy="196.4" r="5.5"/><circle cx="1004.0" cy="195.9" r="5.5"/><circle cx="1012.4" cy="202.3" r="5.5"/><circle cx="998.5" cy="215.5" r="5.5"/><circle cx="1008.5" cy="222.0" r="5.5"/><circle cx="985.1" cy="229.8" r="5.5"/><circle cx="990.1" cy="237.1" r="5.5"/><circle cx="974.9" cy="239.3" r="5.5"/><circle cx="1003.9" cy="238.9" r="5.5"/><circle cx="1017.2" cy="236.1" r="5.5"/><circle cx="1027.6" cy="240.2" r="5.5"/><circle cx="982.4" cy="247.3" r="5.5"/><circle cx="998.1" cy="245.5" r="5.5"/><circle cx="1013.9" cy="245.0" r="5.5"/><circle cx="973.7" cy="249.6" r="5.5"/><circle cx="990.1" cy="249.1" r="5.5"/><circle cx="994.0" cy="251.8" r="5.5"/><circle cx="1005.8" cy="249.6" r="5.5"/><circle cx="1010.3" cy="252.7" r="5.5"/><circle cx="1021.7" cy="248.2" r="5.5"/><circle cx="1026.7" cy="251.4" r="5.5"/><circle cx="975.8" cy="260.4" r="5.5"/><circle cx="984.4" cy="262.5" r="5.5"/><circle cx="1019.9" cy="262.1" r="5.5"/><circle cx="1002.2" cy="265.2" r="5.5"/><circle cx="965.6" cy="268.8" r="5.5"/><circle cx="1037.1" cy="271.8" r="5.5"/><circle cx="1000.5" cy="274.5" r="5.5"/><circle cx="1018.7" cy="275.0" r="5.5"/><circle cx="972.2" cy="283.9" r="5.5"/><circle cx="981.7" cy="282.1" r="5.5"/><circle cx="991.0" cy="282.7" r="5.5"/><circle cx="1009.8" cy="283.0" r="5.5"/><circle cx="1028.5" cy="282.1" r="5.5"/><circle cx="1033.5" cy="285.7" r="5.5"/><circle cx="976.7" cy="291.1" r="5.5"/><circle cx="995.8" cy="289.8" r="5.5"/><circle cx="1014.6" cy="290.7" r="5.5"/><circle cx="1024.0" cy="294.3" r="5.5"/><circle cx="986.2" cy="296.4" r="5.5"/><circle cx="967.2" cy="300.5" r="5.5"/><circle cx="997.8" cy="301.4" r="5.5"/><circle cx="1005.3" cy="299.6" r="5.5"/><circle cx="1036.2" cy="301.4" r="5.5"/><circle cx="979.0" cy="306.8" r="5.5"/><circle cx="1016.9" cy="306.8" r="5.5"/><circle cx="988.7" cy="310.7" r="5.5"/><circle cx="1026.4" cy="310.7" r="5.5"/><circle cx="1007.4" cy="312.9" r="5.5"/><circle cx="969.6" cy="314.8" r="5.5"/><circle cx="1030.8" cy="315.5" r="5.5"/><circle cx="993.3" cy="317.5" r="5.5"/><circle cx="1011.9" cy="325.0" r="5.5"/><circle cx="974.9" cy="328.2" r="5.5"/><circle cx="984.4" cy="329.1" r="5.5"/><circle cx="1020.8" cy="328.2" r="5.5"/><circle cx="966.5" cy="333.0" r="5.5"/><circle cx="1035.3" cy="332.7" r="5.5"/><circle cx="998.7" cy="333.0" r="5.5"/><circle cx="1003.5" cy="331.8" r="5.5"/><circle cx="981.2" cy="336.6" r="5.5"/><circle cx="1016.4" cy="336.1" r="5.5"/><circle cx="1025.8" cy="337.5" r="5.5"/><circle cx="990.6" cy="339.3" r="5.5"/><circle cx="1007.3" cy="341.5" r="5.5"/><circle cx="973.9" cy="343.3" r="5.5"/><circle cx="994.9" cy="346.1" r="5.5"/><circle cx="1028.3" cy="346.1" r="5.5"/><circle cx="1001.5" cy="645.8" r="5.5"/><circle cx="1001.0" cy="553.4" r="5.5"/><circle cx="1003.5" cy="454.2" r="5.5"/><circle cx="997.5" cy="440.5" r="5.5"/><circle cx="991.6" cy="408.1" r="5.5"/><circle cx="999.2" cy="414.2" r="5.5"/><circle cx="1004.3" cy="415.7" r="5.5"/><circle cx="1009.4" cy="410.6" r="5.5"/><circle cx="1003.3" cy="392.7" r="5.5"/><circle cx="994.7" cy="383.8" r="5.5"/><circle cx="988.1" cy="375.7" r="5.5"/><circle cx="1009.4" cy="373.9" r="5.5"/><circle cx="1014.4" cy="379.5" r="5.5"/><circle cx="977.7" cy="367.6" r="5.5"/><circle cx="998.7" cy="367.6" r="5.5"/><circle cx="1023.5" cy="367.6" r="5.5"/><circle cx="981.5" cy="358.5" r="5.5"/><circle cx="989.9" cy="362.0" r="5.5"/><circle cx="1003.0" cy="362.5" r="5.5"/><circle cx="1010.6" cy="357.5" r="5.5"/><circle cx="1017.5" cy="360.0" r="5.5"/><circle cx="1098.5" cy="140.5" r="5.5"/><circle cx="1094.9" cy="159.3" r="5.5"/><circle cx="1098.9" cy="182.5" r="5.5"/><circle cx="1083.9" cy="196.2" r="5.5"/><circle cx="1094.0" cy="198.6" r="5.5"/><circle cx="1109.8" cy="197.7" r="5.5"/><circle cx="1103.0" cy="202.5" r="5.5"/><circle cx="1107.4" cy="203.9" r="5.5"/><circle cx="1084.2" cy="203.9" r="5.5"/><circle cx="1088.3" cy="207.5" r="5.5"/><circle cx="1098.5" cy="211.6" r="5.5"/><circle cx="1075.3" cy="217.0" r="5.5"/><circle cx="1117.8" cy="218.2" r="5.5"/><circle cx="1093.7" cy="222.1" r="5.5"/><circle cx="1106.9" cy="224.5" r="5.5"/><circle cx="1079.4" cy="230.4" r="5.5"/><circle cx="1085.1" cy="241.1" r="5.5"/><circle cx="1116.9" cy="240.2" r="5.5"/><circle cx="1068.1" cy="244.5" r="5.5"/><circle cx="1101.2" cy="244.6" r="5.5"/><circle cx="1071.7" cy="248.9" r="5.5"/><circle cx="1079.8" cy="252.1" r="5.5"/><circle cx="1088.7" cy="248.9" r="5.5"/><circle cx="1105.6" cy="248.9" r="5.5"/><circle cx="1114.6" cy="251.6" r="5.5"/><circle cx="1123.5" cy="248.2" r="5.5"/><circle cx="1096.7" cy="254.3" r="5.5"/><circle cx="1061.0" cy="255.4" r="5.5"/><circle cx="1094.9" cy="259.3" r="5.5"/><circle cx="1132.4" cy="258.4" r="5.5"/><circle cx="1076.7" cy="262.9" r="5.5"/><circle cx="1114.0" cy="260.5" r="5.5"/><circle cx="1123.5" cy="262.9" r="5.5"/><circle cx="1085.6" cy="266.8" r="5.5"/><circle cx="1066.4" cy="270.0" r="5.5"/><circle cx="1090.5" cy="271.4" r="5.5"/><circle cx="1104.8" cy="269.1" r="5.5"/><circle cx="1109.8" cy="271.8" r="5.5"/><circle cx="1128.9" cy="270.9" r="5.5"/><circle cx="1071.7" cy="273.2" r="5.5"/><circle cx="1081.2" cy="277.1" r="5.5"/><circle cx="1100.3" cy="277.7" r="5.5"/><circle cx="1119.4" cy="274.5" r="5.5"/><circle cx="1062.4" cy="281.1" r="5.5"/><circle cx="1093.1" cy="289.6" r="5.5"/><circle cx="1130.1" cy="289.6" r="5.5"/><circle cx="1075.3" cy="296.8" r="5.5"/><circle cx="1111.0" cy="295.0" r="5.5"/><circle cx="1119.9" cy="298.0" r="5.5"/><circle cx="1067.2" cy="303.0" r="5.5"/><circle cx="1084.6" cy="302.1" r="5.5"/><circle cx="1089.0" cy="303.9" r="5.5"/><circle cx="1102.1" cy="302.7" r="5.5"/><circle cx="1123.5" cy="303.9" r="5.5"/><circle cx="1073.1" cy="309.3" r="5.5"/><circle cx="1081.5" cy="310.2" r="5.5"/><circle cx="1097.6" cy="310.2" r="5.5"/><circle cx="1106.2" cy="309.3" r="5.5"/><circle cx="1114.6" cy="310.2" r="5.5"/><circle cx="1065.5" cy="314.6" r="5.5"/><circle cx="1094.9" cy="317.3" r="5.5"/><circle cx="1126.2" cy="317.0" r="5.5"/><circle cx="1079.8" cy="320.9" r="5.5"/><circle cx="1109.8" cy="320.5" r="5.5"/><circle cx="1088.3" cy="333.8" r="5.5"/><circle cx="1115.1" cy="332.5" r="5.5"/><circle cx="1096.7" cy="539.4" r="5.5"/><circle cx="1095.6" cy="498.3" r="5.5"/><circle cx="1098.4" cy="463.9" r="5.5"/><circle cx="1092.2" cy="441.5" r="5.5"/><circle cx="1098.5" cy="436.9" r="5.5"/><circle cx="1094.4" cy="419.7" r="5.5"/><circle cx="1104.3" cy="414.2" r="5.5"/><circle cx="1085.6" cy="400.6" r="5.5"/><circle cx="1098.2" cy="398.9" r="5.5"/><circle cx="1086.8" cy="384.2" r="5.5"/><circle cx="1091.0" cy="388.8" r="5.5"/><circle cx="1094.4" cy="378.8" r="5.5"/><circle cx="1102.8" cy="382.9" r="5.5"/><circle cx="1106.1" cy="388.3" r="5.5"/><circle cx="1078.7" cy="366.2" r="5.5"/><circle cx="1087.7" cy="360.8" r="5.5"/><circle cx="1098.0" cy="364.9" r="5.5"/><circle cx="1113.1" cy="369.0" r="5.5"/><circle cx="1081.4" cy="350.2" r="5.5"/><circle cx="1092.3" cy="348.2" r="5.5"/><circle cx="1103.6" cy="349.3" r="5.5"/><circle cx="1108.5" cy="354.7" r="5.5"/><circle cx="1076.6" cy="341.6" r="5.5"/><circle cx="1101.5" cy="340.0" r="5.5"/><circle cx="1116.2" cy="342.9" r="5.5"/></g>
<g class="g"><circle cx="1190.5" cy="121.5" r="5.5"/><circle cx="1197.1" cy="174.9" r="5.5"/><circle cx="1188.5" cy="181.8" r="5.5"/><circle cx="1193.5" cy="192.5" r="5.5"/><circle cx="1175.9" cy="215.9" r="5.5"/><circle cx="1187.4" cy="217.8" r="5.5"/><circle cx="1207.2" cy="217.5" r="5.5"/><circle cx="1198.4" cy="227.7" r="5.5"/><circle cx="1170.4" cy="239.8" r="5.5"/><circle cx="1177.0" cy="245.3" r="5.5"/><circle cx="1208.6" cy="244.5" r="5.5"/><circle cx="1158.8" cy="250.8" r="5.5"/><circle cx="1192.9" cy="250.3" r="5.5"/><circle cx="1189.4" cy="255.8" r="5.5"/><circle cx="1207.2" cy="255.8" r="5.5"/><circle cx="1224.3" cy="252.2" r="5.5"/><circle cx="1170.9" cy="264.1" r="5.5"/><circle cx="1180.0" cy="269.3" r="5.5"/><circle cx="1199.0" cy="271.2" r="5.5"/><circle cx="1218.0" cy="269.3" r="5.5"/><circle cx="1160.7" cy="273.7" r="5.5"/><circle cx="1222.4" cy="279.5" r="5.5"/><circle cx="1166.5" cy="286.9" r="5.5"/><circle cx="1184.7" cy="282.8" r="5.5"/><circle cx="1203.1" cy="286.6" r="5.5"/><circle cx="1160.2" cy="299.3" r="5.5"/><circle cx="1176.7" cy="296.0" r="5.5"/><circle cx="1193.8" cy="297.6" r="5.5"/><circle cx="1211.1" cy="295.2" r="5.5"/><circle cx="1187.4" cy="304.2" r="5.5"/><circle cx="1219.6" cy="303.7" r="5.5"/><circle cx="1203.1" cy="308.4" r="5.5"/><circle cx="1175.9" cy="326.3" r="5.5"/><circle cx="1207.2" cy="329.6" r="5.5"/><circle cx="1172.6" cy="341.9" r="5.5"/><circle cx="1183.3" cy="337.5" r="5.5"/><circle cx="1194.3" cy="338.1" r="5.5"/><circle cx="1207.2" cy="346.9" r="5.5"/><circle cx="1186.9" cy="353.5" r="5.5"/><circle cx="1196.5" cy="354.6" r="5.5"/><circle cx="1182.7" cy="379.9" r="5.5"/><circle cx="1197.1" cy="382.4" r="5.5"/><circle cx="1187.4" cy="391.8" r="5.5"/><circle cx="1191.6" cy="449.0" r="5.5"/></g>
<g class="t"><circle cx="812.7" cy="158.6" r="5.5"/></g>
<g class="p"><circle cx="811.2" cy="142.3" r="5.5"/></g>
<g class="y"><circle cx="807.1" cy="183.9" r="5.5"/></g>
<g class="p"><circle cx="807.0" cy="183.6" r="5.5"/></g>
<g class="y"><circle cx="810.5" cy="189.2" r="5.5"/></g>
<g class="t"><circle cx="813.1" cy="188.0" r="5.5"/><circle cx="817.2" cy="183.9" r="5.5"/></g>
<g class="p"><circle cx="803.4" cy="188.8" r="5.5"/></g>
<g class="t"><circle cx="808.6" cy="199.2" r="5.5"/></g>
<g class="y"><circle cx="820.5" cy="196.6" r="5.5"/></g>
<g class="p"><circle cx="815.3" cy="201.4" r="5.5"/><circle cx="801.9" cy="202.2" r="5.5"/><circle cx="819.4" cy="206.6" r="5.5"/></g>
<g class="t"><circle cx="804.5" cy="208.9" r="5.5"/></g>
<g class="p"><circle cx="811.6" cy="208.9" r="5.5"/></g>
<g class="y"><circle cx="795.6" cy="210.4" r="5.5"/></g>
<g class="p"><circle cx="830.6" cy="217.4" r="5.5"/></g>
<g class="t"><circle cx="791.1" cy="229.1" r="5.5"/></g>
<g class="y"><circle cx="798.9" cy="228.0" r="5.5"/></g>
<g class="t"><circle cx="805.3" cy="229.9" r="5.5"/></g>
<g class="p"><circle cx="811.0" cy="223.9" r="5.5"/></g>
<g class="t"><circle cx="822.8" cy="226.9" r="5.5"/></g>
<g class="y"><circle cx="815.7" cy="232.5" r="5.5"/></g>
<g class="p"><circle cx="829.8" cy="229.1" r="5.5"/><circle cx="833.5" cy="231.0" r="5.5"/></g>
<g class="y"><circle cx="787.0" cy="234.3" r="5.5"/></g>
<g class="p"><circle cx="808.6" cy="237.3" r="5.5"/></g>
<g class="t"><circle cx="808.6" cy="233.6" r="5.5"/></g>
<g class="p"><circle cx="823.1" cy="236.6" r="5.5"/><circle cx="826.5" cy="235.1" r="5.5"/></g>
<g class="y"><circle cx="837.6" cy="235.8" r="5.5"/></g>
<g class="t"><circle cx="801.2" cy="238.1" r="5.5"/></g>
<g class="p"><circle cx="793.7" cy="241.4" r="5.5"/></g>
<g class="t"><circle cx="802.3" cy="244.0" r="5.5"/><circle cx="831.3" cy="242.2" r="5.5"/></g>
<g class="p"><circle cx="816.4" cy="245.5" r="5.5"/></g>
<g class="y"><circle cx="784.1" cy="246.2" r="5.5"/></g>
<g class="t"><circle cx="787.8" cy="249.6" r="5.5"/><circle cx="820.9" cy="248.9" r="5.5"/></g>
<g class="p"><circle cx="837.3" cy="248.9" r="5.5"/></g>
<g class="y"><circle cx="796.0" cy="250.7" r="5.5"/><circle cx="809.7" cy="252.2" r="5.5"/><circle cx="828.7" cy="250.0" r="5.5"/></g>
<g class="t"><circle cx="778.5" cy="252.2" r="5.5"/><circle cx="844.0" cy="252.2" r="5.5"/></g>
<g class="y"><circle cx="792.2" cy="256.7" r="5.5"/><circle cx="801.6" cy="258.5" r="5.5"/></g>
<g class="p"><circle cx="818.3" cy="258.5" r="5.5"/><circle cx="835.4" cy="256.7" r="5.5"/></g>
<g class="t"><circle cx="782.9" cy="259.6" r="5.5"/><circle cx="841.0" cy="260.4" r="5.5"/><circle cx="832.4" cy="263.7" r="5.5"/><circle cx="805.6" cy="262.6" r="5.5"/><circle cx="844.3" cy="266.3" r="5.5"/></g>
<g class="p"><circle cx="776.6" cy="266.3" r="5.5"/><circle cx="788.5" cy="268.6" r="5.5"/><circle cx="807.1" cy="266.7" r="5.5"/></g>
<g class="y"><circle cx="798.2" cy="270.1" r="5.5"/><circle cx="835.0" cy="270.1" r="5.5"/><circle cx="824.2" cy="267.1" r="5.5"/></g>
<g class="p"><circle cx="816.4" cy="271.9" r="5.5"/></g>
<g class="y"><circle cx="778.5" cy="271.5" r="5.5"/></g>
<g class="t"><circle cx="802.7" cy="274.5" r="5.5"/><circle cx="841.0" cy="272.3" r="5.5"/></g>
<g class="p"><circle cx="821.3" cy="277.9" r="5.5"/></g>
<g class="y"><circle cx="773.6" cy="280.8" r="5.5"/><circle cx="783.3" cy="279.7" r="5.5"/></g>
<g class="t"><circle cx="792.6" cy="280.8" r="5.5"/></g>
<g class="y"><circle cx="793.0" cy="281.2" r="5.5"/></g>
<g class="t"><circle cx="811.6" cy="281.2" r="5.5"/></g>
<g class="y"><circle cx="830.2" cy="280.5" r="5.5"/></g>
<g class="t"><circle cx="839.5" cy="284.2" r="5.5"/><circle cx="848.8" cy="281.2" r="5.5"/></g>
<g class="p"><circle cx="801.6" cy="285.7" r="5.5"/><circle cx="796.7" cy="289.4" r="5.5"/></g>
<g class="t"><circle cx="819.8" cy="286.4" r="5.5"/></g>
<g class="y"><circle cx="829.8" cy="285.3" r="5.5"/></g>
<g class="p"><circle cx="834.7" cy="289.0" r="5.5"/></g>
<g class="y"><circle cx="844.7" cy="289.4" r="5.5"/></g>
<g class="p"><circle cx="844.7" cy="288.7" r="5.5"/></g>
<g class="y"><circle cx="777.7" cy="288.7" r="5.5"/><circle cx="785.6" cy="286.4" r="5.5"/><circle cx="781.8" cy="293.1" r="5.5"/><circle cx="789.3" cy="295.4" r="5.5"/><circle cx="777.0" cy="298.3" r="5.5"/><circle cx="808.6" cy="290.9" r="5.5"/><circle cx="813.1" cy="293.9" r="5.5"/></g>
<g class="t"><circle cx="826.5" cy="293.1" r="5.5"/></g>
<g class="y"><circle cx="847.3" cy="292.4" r="5.5"/></g>
<g class="p"><circle cx="836.9" cy="296.8" r="5.5"/></g>
<g class="t"><circle cx="798.9" cy="296.5" r="5.5"/></g>
<g class="p"><circle cx="817.9" cy="297.6" r="5.5"/><circle cx="803.8" cy="300.6" r="5.5"/></g>
<g class="y"><circle cx="840.6" cy="300.2" r="5.5"/></g>
<g class="t"><circle cx="822.0" cy="304.3" r="5.5"/></g>
<g class="y"><circle cx="785.9" cy="304.3" r="5.5"/></g>
<g class="p"><circle cx="785.9" cy="305.0" r="5.5"/></g>
<g class="t"><circle cx="777.0" cy="307.3" r="5.5"/><circle cx="795.2" cy="305.8" r="5.5"/></g>
<g class="y"><circle cx="813.1" cy="307.3" r="5.5"/></g>
<g class="p"><circle cx="813.1" cy="306.5" r="5.5"/></g>
<g class="y"><circle cx="832.1" cy="305.4" r="5.5"/></g>
<g class="t"><circle cx="845.4" cy="307.6" r="5.5"/></g>
<g class="y"><circle cx="783.3" cy="311.7" r="5.5"/><circle cx="790.0" cy="313.2" r="5.5"/></g>
<g class="t"><circle cx="801.6" cy="312.5" r="5.5"/></g>
<g class="y"><circle cx="808.6" cy="311.7" r="5.5"/><circle cx="824.2" cy="313.2" r="5.5"/><circle cx="837.6" cy="312.5" r="5.5"/></g>
<g class="p"><circle cx="842.8" cy="313.2" r="5.5"/><circle cx="781.1" cy="320.8" r="5.5"/><circle cx="798.0" cy="319.7" r="5.5"/></g>
<g class="t"><circle cx="830.9" cy="317.9" r="5.5"/></g>
<g class="y"><circle cx="813.1" cy="320.1" r="5.5"/><circle cx="840.2" cy="322.7" r="5.5"/></g>
<g class="t"><circle cx="807.9" cy="323.1" r="5.5"/><circle cx="791.9" cy="324.9" r="5.5"/><circle cx="824.2" cy="323.1" r="5.5"/></g>
<g class="p"><circle cx="832.4" cy="324.9" r="5.5"/><circle cx="801.2" cy="329.4" r="5.5"/></g>
<g class="t"><circle cx="806.4" cy="331.2" r="5.5"/><circle cx="813.1" cy="329.8" r="5.5"/><circle cx="819.8" cy="329.8" r="5.5"/><circle cx="826.5" cy="331.2" r="5.5"/></g>
<g class="p"><circle cx="834.3" cy="330.5" r="5.5"/></g>
<g class="y"><circle cx="785.6" cy="329.8" r="5.5"/></g>
<g class="t"><circle cx="797.8" cy="334.2" r="5.5"/></g>
<g class="y"><circle cx="784.1" cy="337.9" r="5.5"/></g>
<g class="t"><circle cx="811.6" cy="336.8" r="5.5"/></g>
<g class="y"><circle cx="823.5" cy="340.2" r="5.5"/><circle cx="796.7" cy="343.9" r="5.5"/><circle cx="792.2" cy="348.0" r="5.5"/><circle cx="817.2" cy="347.6" r="5.5"/><circle cx="797.5" cy="355.1" r="5.5"/><circle cx="791.9" cy="359.5" r="5.5"/><circle cx="800.1" cy="367.3" r="5.5"/><circle cx="807.1" cy="376.6" r="5.5"/><circle cx="814.6" cy="376.6" r="5.5"/><circle cx="809.4" cy="383.3" r="5.5"/><circle cx="820.5" cy="384.1" r="5.5"/><circle cx="813.1" cy="386.3" r="5.5"/></g>
</g>
<path class="l" d="M754.5,88.4V801.7M753.1,800.4H1250.1"/>
<path class="l" d="M747.6,201.9H753.5"/>
<text class="ax" x="741.7" y="210.9" text-anchor="end">10</text>
<path class="l" d="M747.6,397.7H753.5"/>
<text class="ax" x="741.7" y="406.7" text-anchor="end">8</text>
<path class="l" d="M747.6,593.5H753.5"/>
<text class="ax" x="741.7" y="602.5" text-anchor="end">6</text>
<path class="l" d="M747.6,789.3H753.5"/>
<text class="ax" x="741.7" y="798.3" text-anchor="end">4</text>
<path class="l" d="M811.3,801.5V807"/>
<text class="ax" transform="translate(827.6,1056) rotate(-90)" text-anchor="middle">OT-I high affinity peptide N4 (SIINFEKL)</text>
<path class="l" d="M906.4,801.5V807"/>
<text class="ax" transform="translate(922.7,1056) rotate(-90)" text-anchor="middle">OT-I non-binding peptide NP68 (ASNENMDAM)</text>
<path class="l" d="M1001.5,801.5V807"/>
<text class="ax" transform="translate(1017.8,1056) rotate(-90)" text-anchor="middle">OT-I reduced affinity peptide G4 (SIIGFEKL)</text>
<path class="l" d="M1096.6,801.5V807"/>
<text class="ax" transform="translate(1112.9,1056) rotate(-90)" text-anchor="middle">OT-I reduced affinity peptide T4 (SIITFEKL)</text>
<path class="l" d="M1191.7,801.5V807"/>
<text class="ax" transform="translate(1208.0,1056) rotate(-90)" text-anchor="middle">unstimulated</text>
<text class="axt" x="1001.7" y="1325.3" text-anchor="middle">stimulus</text>
<text class="axt" transform="translate(704.0,444.9) rotate(-90)" text-anchor="middle">Expression (logcounts)</text>
<text class="axt" x="1275.3" y="375">time</text>
<rect x="1275.4" y="391" width="29.4" height="145.5" fill="url(#vir)"/>
<text class="ax" x="1318.0" y="399.6">6</text>
<path d="M1275.4,420.1h5.8M1304.8,420.1h-5.8" stroke="#fff" stroke-width="1.2" fill="none"/>
<text class="ax" x="1318.0" y="428.7">5</text>
<path d="M1275.4,449.2h5.8M1304.8,449.2h-5.8" stroke="#fff" stroke-width="1.2" fill="none"/>
<text class="ax" x="1318.0" y="457.8">4</text>
<path d="M1275.4,478.4h5.8M1304.8,478.4h-5.8" stroke="#fff" stroke-width="1.2" fill="none"/>
<text class="ax" x="1318.0" y="487.0">3</text>
<path d="M1275.4,507.5h5.8M1304.8,507.5h-5.8" stroke="#fff" stroke-width="1.2" fill="none"/>
<text class="ax" x="1318.0" y="516.1">2</text>
<text class="ax" x="1318.0" y="545.2">1</text>
</svg></body></html>
